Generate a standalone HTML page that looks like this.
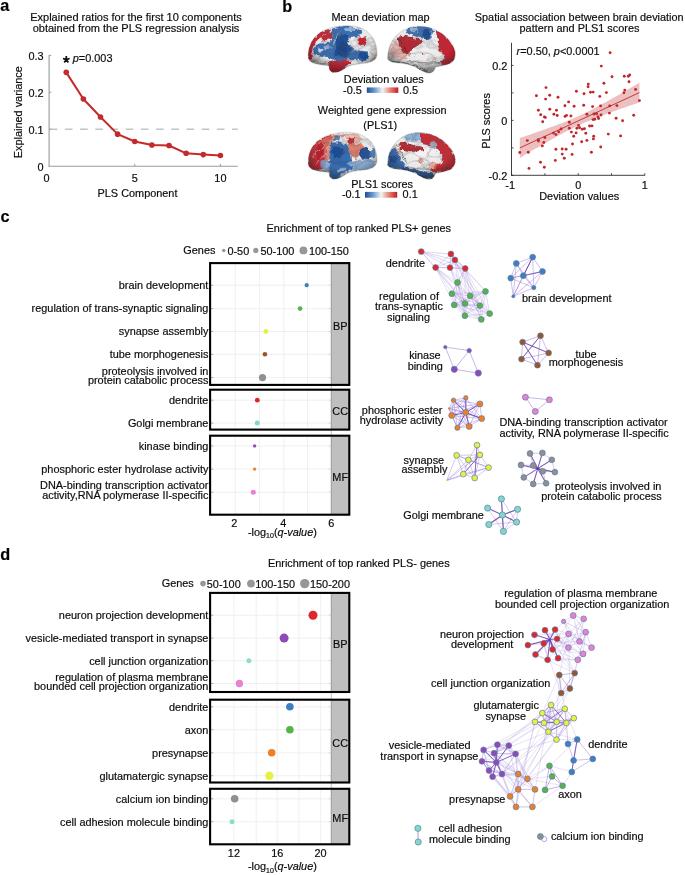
<!DOCTYPE html>
<html><head><meta charset="utf-8"><style>
html,body{margin:0;padding:0;background:#fff;}
body{width:685px;height:875px;overflow:hidden;}
svg{display:block;will-change:transform;font-family:"Liberation Sans",sans-serif;fill:#0c0c0c;}
text{stroke:#0c0c0c;stroke-width:0.18px;}
</style></head><body>
<svg width="685" height="875" viewBox="0 0 685 875">
<defs><filter id="bl1" x="-20%" y="-20%" width="140%" height="140%"><feGaussianBlur stdDeviation="0.6"/></filter>
<filter id="org" x="-10%" y="-10%" width="120%" height="120%"><feTurbulence type="fractalNoise" baseFrequency="0.22" numOctaves="2" seed="4" result="n"/><feDisplacementMap in="SourceGraphic" in2="n" scale="5" xChannelSelector="R" yChannelSelector="G" result="d"/><feGaussianBlur in="d" stdDeviation="0.35"/></filter>
<filter id="sulc" x="0" y="0" width="100%" height="100%"><feTurbulence type="turbulence" baseFrequency="0.07 0.13" numOctaves="1" seed="11" result="t"/><feColorMatrix in="t" type="matrix" values="0 0 0 0 0.1  0 0 0 0 0.1  0 0 0 0 0.12  -4 0 0 0 0.6" result="a"/><feGaussianBlur in="a" stdDeviation="0.55"/></filter>
<radialGradient id="shadeL" cx="0.52" cy="0.38" r="0.66"><stop offset="0" stop-color="#f4f4f4"/><stop offset="0.65" stop-color="#e6e6e6"/><stop offset="1" stop-color="#9a9a9a"/></radialGradient>
<radialGradient id="vign" cx="0.52" cy="0.36" r="0.66"><stop offset="0.62" stop-color="#000" stop-opacity="0"/><stop offset="1" stop-color="#000" stop-opacity="0.38"/></radialGradient>
<clipPath id="c1"><path d="M308.2,57 C307.8,47 312,38 320,32.5 C328,27.5 338,25.6 348,25.6 C357,25.8 364.5,28.5 370.5,34.5 C375.5,40 377.6,48 376.9,55.5 C376.3,60 372.5,62 366,63.2 C359,64 352,64.6 347,67 C343,69.5 339.5,72.4 334.5,72.6 C330.8,72.6 328.8,70 329.0,66 C323,65.2 316,64.6 312,62.6 C309.6,61.3 308.3,59.5 308.2,57 Z" transform="translate(0,0)"/></clipPath>
<clipPath id="c2"><path d="M387.4,58.5 C387.6,50 390,43 395,37 C400,31 407,27.3 416,26.3 C426,25.6 436,28.5 444.5,35.5 C451,41.5 455.2,48 455.4,53.5 C455.4,58.5 453.5,62 449.5,63.8 C445,65.4 440,66.2 435.5,67.2 C434.8,70 433.2,72.8 429.5,73.2 C425.5,73.4 421,70.5 416,67.4 C411,64.8 404,63.4 398,63 C392.5,62.6 388.2,61.4 387.4,58.5 Z" transform="translate(0,0)"/></clipPath>
<clipPath id="c3"><path d="M308.2,57 C307.8,47 312,38 320,32.5 C328,27.5 338,25.6 348,25.6 C357,25.8 364.5,28.5 370.5,34.5 C375.5,40 377.6,48 376.9,55.5 C376.3,60 372.5,62 366,63.2 C359,64 352,64.6 347,67 C343,69.5 339.5,72.4 334.5,72.6 C330.8,72.6 328.8,70 329.0,66 C323,65.2 316,64.6 312,62.6 C309.6,61.3 308.3,59.5 308.2,57 Z" transform="translate(0,106.6)"/></clipPath>
<clipPath id="c4"><path d="M387.4,58.5 C387.6,50 390,43 395,37 C400,31 407,27.3 416,26.3 C426,25.6 436,28.5 444.5,35.5 C451,41.5 455.2,48 455.4,53.5 C455.4,58.5 453.5,62 449.5,63.8 C445,65.4 440,66.2 435.5,67.2 C434.8,70 433.2,72.8 429.5,73.2 C425.5,73.4 421,70.5 416,67.4 C411,64.8 404,63.4 398,63 C392.5,62.6 388.2,61.4 387.4,58.5 Z" transform="translate(0,106.3)"/></clipPath>
<linearGradient id="cb" x1="0" x2="1" y1="0" y2="0"><stop offset="0" stop-color="#1f4f95"/><stop offset="0.25" stop-color="#6b9bd0"/><stop offset="0.5" stop-color="#f3f3f3"/><stop offset="0.75" stop-color="#e88070"/><stop offset="1" stop-color="#c01c28"/></linearGradient></defs>
<rect width="685" height="875" fill="#fff"/>
<text x="0.30" y="10.80" font-size="16.3" text-anchor="start" font-weight="bold" fill="#000">a</text>
<text x="282.30" y="12.40" font-size="16.3" text-anchor="start" font-weight="bold" fill="#000">b</text>
<text x="0.50" y="222.30" font-size="16.3" text-anchor="start" font-weight="bold" fill="#000">c</text>
<text x="0.20" y="559.70" font-size="16.3" text-anchor="start" font-weight="bold" fill="#000">d</text>
<text x="136.00" y="21.10" font-size="11" text-anchor="middle">Explained ratios for the first 10 components</text>
<text x="136.00" y="32.00" font-size="11" text-anchor="middle">obtained from the PLS regression analysis</text>
<line x1="49.10" y1="55.00" x2="49.10" y2="166.70" stroke="#9a9a9a" stroke-width="1.1"/>
<line x1="48.60" y1="166.20" x2="237.80" y2="166.20" stroke="#9a9a9a" stroke-width="1.1"/>
<line x1="49.70" y1="129.25" x2="237.80" y2="129.25" stroke="#c4c4c4" stroke-width="1.7" stroke-dasharray="7.6,7.6"/>
<text x="43.60" y="170.50" font-size="10.9" text-anchor="end">0</text>
<line x1="49.10" y1="129.25" x2="51.30" y2="129.25" stroke="#9a9a9a" stroke-width="1"/>
<text x="43.60" y="133.55" font-size="10.9" text-anchor="end">0.1</text>
<line x1="49.10" y1="92.30" x2="51.30" y2="92.30" stroke="#9a9a9a" stroke-width="1"/>
<text x="43.60" y="96.60" font-size="10.9" text-anchor="end">0.2</text>
<line x1="49.10" y1="55.35" x2="51.30" y2="55.35" stroke="#9a9a9a" stroke-width="1"/>
<text x="43.60" y="59.65" font-size="10.9" text-anchor="end">0.3</text>
<text x="46.60" y="182.00" font-size="10.9" text-anchor="middle">0</text>
<line x1="134.75" y1="166.20" x2="134.75" y2="164.00" stroke="#9a9a9a" stroke-width="1"/>
<text x="134.75" y="182.00" font-size="10.9" text-anchor="middle">5</text>
<line x1="220.40" y1="166.20" x2="220.40" y2="164.00" stroke="#9a9a9a" stroke-width="1"/>
<text x="220.40" y="182.00" font-size="10.9" text-anchor="middle">10</text>
<text x="137.50" y="196.90" font-size="10.9" text-anchor="middle">PLS Component</text>
<text x="0.00" y="0.00" font-size="10.9" text-anchor="middle" transform="translate(22.4,112.2) rotate(-90)">Explained variance</text>
<path d="M66.23,72.35 L83.36,98.95 L100.49,117.06 L117.62,134.13 L134.75,141.52 L151.88,145.03 L169.01,145.51 L186.14,153.30 L203.27,154.60 L220.40,155.52" fill="none" stroke="#c42a2a" stroke-width="2.0" stroke-linejoin="round"/>
<circle cx="66.23" cy="72.35" r="2.80" fill="#c42a2a"/>
<circle cx="83.36" cy="98.95" r="2.80" fill="#c42a2a"/>
<circle cx="100.49" cy="117.06" r="2.80" fill="#c42a2a"/>
<circle cx="117.62" cy="134.13" r="2.80" fill="#c42a2a"/>
<circle cx="134.75" cy="141.52" r="2.80" fill="#c42a2a"/>
<circle cx="151.88" cy="145.03" r="2.80" fill="#c42a2a"/>
<circle cx="169.01" cy="145.51" r="2.80" fill="#c42a2a"/>
<circle cx="186.14" cy="153.30" r="2.80" fill="#c42a2a"/>
<circle cx="203.27" cy="154.60" r="2.80" fill="#c42a2a"/>
<circle cx="220.40" cy="155.52" r="2.80" fill="#c42a2a"/>
<path d="M66.30,59.60 L66.30,56.10 M66.30,59.60 L69.63,58.52 M66.30,59.60 L68.36,62.43 M66.30,59.60 L64.24,62.43 M66.30,59.60 L62.97,58.52" fill="none" stroke="#111" stroke-width="1.7" stroke-linecap="butt"/>
<text x="72.80" y="62.40" font-size="10.9" text-anchor="start"><tspan font-style="italic">p</tspan>=0.003</text>
<text x="579.20" y="21.20" font-size="10.9" text-anchor="middle">Spatial association between brain deviation</text>
<text x="579.50" y="32.00" font-size="10.9" text-anchor="middle">pattern and PLS1 scores</text>
<path d="M519.80,137.90 L522.79,136.91 L525.78,135.90 L528.77,134.90 L531.76,133.88 L534.75,132.86 L537.74,131.83 L540.73,130.80 L543.72,129.75 L546.71,128.69 L549.70,127.61 L552.69,126.53 L555.68,125.42 L558.67,124.29 L561.66,123.14 L564.65,121.96 L567.64,120.75 L570.63,119.51 L573.62,118.23 L576.61,116.92 L579.60,115.56 L582.59,114.16 L585.58,112.72 L588.57,111.25 L591.56,109.73 L594.55,108.18 L597.54,106.61 L600.53,105.00 L603.52,103.37 L606.51,101.72 L609.50,100.04 L612.49,98.36 L615.48,96.66 L618.47,94.94 L621.46,93.22 L624.45,91.48 L627.44,89.74 L630.43,87.99 L633.42,86.24 L636.41,84.47 L639.40,82.71 L639.40,102.49 L636.41,103.49 L633.42,104.49 L630.43,105.50 L627.44,106.52 L624.45,107.54 L621.46,108.57 L618.47,109.61 L615.48,110.66 L612.49,111.73 L609.50,112.81 L606.51,113.90 L603.52,115.01 L600.53,116.15 L597.54,117.30 L594.55,118.49 L591.56,119.71 L588.57,120.96 L585.58,122.25 L582.59,123.57 L579.60,124.94 L576.61,126.35 L573.62,127.80 L570.63,129.28 L567.64,130.81 L564.65,132.36 L561.66,133.95 L558.67,135.57 L555.68,137.20 L552.69,138.86 L549.70,140.54 L546.71,142.23 L543.72,143.93 L540.73,145.65 L537.74,147.38 L534.75,149.11 L531.76,150.86 L528.77,152.61 L525.78,154.37 L522.79,156.13 L519.80,157.90 Z" fill="#c3383b" stroke="none" stroke-width="1" fill-opacity="0.32"/>
<line x1="519.80" y1="147.90" x2="639.40" y2="92.60" stroke="#c02a2c" stroke-width="0.9"/>
<circle cx="546.00" cy="87.60" r="1.45" fill="#c0282a"/>
<circle cx="576.40" cy="91.20" r="1.45" fill="#c0282a"/>
<circle cx="536.40" cy="95.80" r="1.45" fill="#c0282a"/>
<circle cx="549.70" cy="95.30" r="1.45" fill="#c0282a"/>
<circle cx="545.60" cy="99.10" r="1.45" fill="#c0282a"/>
<circle cx="558.00" cy="97.30" r="1.45" fill="#c0282a"/>
<circle cx="568.60" cy="101.90" r="1.45" fill="#c0282a"/>
<circle cx="564.90" cy="105.80" r="1.45" fill="#c0282a"/>
<circle cx="574.10" cy="106.20" r="1.45" fill="#c0282a"/>
<circle cx="538.40" cy="110.30" r="1.45" fill="#c0282a"/>
<circle cx="549.80" cy="109.30" r="1.45" fill="#c0282a"/>
<circle cx="556.50" cy="110.30" r="1.45" fill="#c0282a"/>
<circle cx="540.70" cy="114.70" r="1.45" fill="#c0282a"/>
<circle cx="553.90" cy="114.20" r="1.45" fill="#c0282a"/>
<circle cx="557.20" cy="115.50" r="1.45" fill="#c0282a"/>
<circle cx="544.40" cy="116.90" r="1.45" fill="#c0282a"/>
<circle cx="545.30" cy="117.40" r="1.45" fill="#c0282a"/>
<circle cx="565.00" cy="116.40" r="1.45" fill="#c0282a"/>
<circle cx="566.50" cy="115.40" r="1.45" fill="#c0282a"/>
<circle cx="570.90" cy="116.00" r="1.45" fill="#c0282a"/>
<circle cx="542.70" cy="121.80" r="1.45" fill="#c0282a"/>
<circle cx="569.30" cy="122.30" r="1.45" fill="#c0282a"/>
<circle cx="561.10" cy="129.00" r="1.45" fill="#c0282a"/>
<circle cx="569.30" cy="128.30" r="1.45" fill="#c0282a"/>
<circle cx="576.90" cy="128.30" r="1.45" fill="#c0282a"/>
<circle cx="578.50" cy="125.40" r="1.45" fill="#c0282a"/>
<circle cx="610.10" cy="52.80" r="1.45" fill="#c0282a"/>
<circle cx="601.30" cy="66.10" r="1.45" fill="#c0282a"/>
<circle cx="612.00" cy="76.80" r="1.45" fill="#c0282a"/>
<circle cx="624.30" cy="76.30" r="1.45" fill="#c0282a"/>
<circle cx="628.30" cy="76.30" r="1.45" fill="#c0282a"/>
<circle cx="629.70" cy="75.00" r="1.45" fill="#c0282a"/>
<circle cx="629.00" cy="81.70" r="1.45" fill="#c0282a"/>
<circle cx="603.90" cy="83.20" r="1.45" fill="#c0282a"/>
<circle cx="588.30" cy="84.10" r="1.45" fill="#c0282a"/>
<circle cx="588.10" cy="86.80" r="1.45" fill="#c0282a"/>
<circle cx="584.00" cy="93.70" r="1.45" fill="#c0282a"/>
<circle cx="590.50" cy="92.30" r="1.45" fill="#c0282a"/>
<circle cx="593.20" cy="92.10" r="1.45" fill="#c0282a"/>
<circle cx="606.40" cy="92.60" r="1.45" fill="#c0282a"/>
<circle cx="624.80" cy="90.10" r="1.45" fill="#c0282a"/>
<circle cx="623.90" cy="92.70" r="1.45" fill="#c0282a"/>
<circle cx="635.60" cy="89.40" r="1.45" fill="#c0282a"/>
<circle cx="599.80" cy="96.40" r="1.45" fill="#c0282a"/>
<circle cx="639.40" cy="100.60" r="1.45" fill="#c0282a"/>
<circle cx="583.70" cy="105.20" r="1.45" fill="#c0282a"/>
<circle cx="592.60" cy="106.60" r="1.45" fill="#c0282a"/>
<circle cx="600.60" cy="105.90" r="1.45" fill="#c0282a"/>
<circle cx="609.70" cy="105.90" r="1.45" fill="#c0282a"/>
<circle cx="616.90" cy="105.60" r="1.45" fill="#c0282a"/>
<circle cx="558.70" cy="131.80" r="1.45" fill="#c0282a"/>
<circle cx="571.40" cy="132.10" r="1.45" fill="#c0282a"/>
<circle cx="553.50" cy="133.10" r="1.45" fill="#c0282a"/>
<circle cx="555.90" cy="134.60" r="1.45" fill="#c0282a"/>
<circle cx="573.70" cy="136.20" r="1.45" fill="#c0282a"/>
<circle cx="544.90" cy="137.50" r="1.45" fill="#c0282a"/>
<circle cx="527.30" cy="140.60" r="1.45" fill="#c0282a"/>
<circle cx="538.20" cy="139.70" r="1.45" fill="#c0282a"/>
<circle cx="538.50" cy="141.00" r="1.45" fill="#c0282a"/>
<circle cx="543.80" cy="142.50" r="1.45" fill="#c0282a"/>
<circle cx="542.30" cy="145.90" r="1.45" fill="#c0282a"/>
<circle cx="572.50" cy="144.00" r="1.45" fill="#c0282a"/>
<circle cx="519.80" cy="152.50" r="1.45" fill="#c0282a"/>
<circle cx="528.30" cy="152.20" r="1.45" fill="#c0282a"/>
<circle cx="555.90" cy="149.20" r="1.45" fill="#c0282a"/>
<circle cx="562.20" cy="149.00" r="1.45" fill="#c0282a"/>
<circle cx="566.10" cy="149.30" r="1.45" fill="#c0282a"/>
<circle cx="562.20" cy="154.10" r="1.45" fill="#c0282a"/>
<circle cx="572.10" cy="154.40" r="1.45" fill="#c0282a"/>
<circle cx="564.30" cy="158.30" r="1.45" fill="#c0282a"/>
<circle cx="555.30" cy="160.40" r="1.45" fill="#c0282a"/>
<circle cx="540.50" cy="162.20" r="1.45" fill="#c0282a"/>
<circle cx="529.00" cy="168.40" r="1.45" fill="#c0282a"/>
<circle cx="544.30" cy="167.30" r="1.45" fill="#c0282a"/>
<circle cx="586.90" cy="114.20" r="1.45" fill="#c0282a"/>
<circle cx="594.00" cy="114.00" r="1.45" fill="#c0282a"/>
<circle cx="596.60" cy="113.70" r="1.45" fill="#c0282a"/>
<circle cx="601.00" cy="115.00" r="1.45" fill="#c0282a"/>
<circle cx="609.40" cy="113.10" r="1.45" fill="#c0282a"/>
<circle cx="633.70" cy="115.20" r="1.45" fill="#c0282a"/>
<circle cx="598.00" cy="116.90" r="1.45" fill="#c0282a"/>
<circle cx="598.60" cy="118.50" r="1.45" fill="#c0282a"/>
<circle cx="593.00" cy="119.60" r="1.45" fill="#c0282a"/>
<circle cx="594.80" cy="119.30" r="1.45" fill="#c0282a"/>
<circle cx="616.10" cy="118.30" r="1.45" fill="#c0282a"/>
<circle cx="622.60" cy="120.70" r="1.45" fill="#c0282a"/>
<circle cx="579.60" cy="127.70" r="1.45" fill="#c0282a"/>
<circle cx="582.30" cy="129.20" r="1.45" fill="#c0282a"/>
<circle cx="584.40" cy="128.80" r="1.45" fill="#c0282a"/>
<circle cx="589.60" cy="126.00" r="1.45" fill="#c0282a"/>
<circle cx="592.00" cy="125.90" r="1.45" fill="#c0282a"/>
<circle cx="576.10" cy="132.90" r="1.45" fill="#c0282a"/>
<circle cx="585.80" cy="133.30" r="1.45" fill="#c0282a"/>
<circle cx="593.70" cy="136.20" r="1.45" fill="#c0282a"/>
<circle cx="593.40" cy="138.90" r="1.45" fill="#c0282a"/>
<circle cx="608.30" cy="134.10" r="1.45" fill="#c0282a"/>
<circle cx="620.60" cy="135.90" r="1.45" fill="#c0282a"/>
<circle cx="586.90" cy="140.40" r="1.45" fill="#c0282a"/>
<circle cx="581.70" cy="141.70" r="1.45" fill="#c0282a"/>
<circle cx="600.70" cy="147.00" r="1.45" fill="#c0282a"/>
<circle cx="591.40" cy="152.20" r="1.45" fill="#c0282a"/>
<line x1="511.50" y1="42.80" x2="511.50" y2="175.30" stroke="#2a2a2a" stroke-width="0.9"/>
<line x1="511.00" y1="175.30" x2="645.00" y2="175.30" stroke="#2a2a2a" stroke-width="0.9"/>
<line x1="511.50" y1="175.40" x2="513.60" y2="175.40" stroke="#2a2a2a" stroke-width="0.8"/>
<line x1="511.50" y1="147.90" x2="513.60" y2="147.90" stroke="#2a2a2a" stroke-width="0.8"/>
<line x1="511.50" y1="120.40" x2="513.60" y2="120.40" stroke="#2a2a2a" stroke-width="0.8"/>
<line x1="511.50" y1="92.90" x2="513.60" y2="92.90" stroke="#2a2a2a" stroke-width="0.8"/>
<line x1="511.50" y1="65.40" x2="513.60" y2="65.40" stroke="#2a2a2a" stroke-width="0.8"/>
<line x1="511.60" y1="175.30" x2="511.60" y2="173.20" stroke="#2a2a2a" stroke-width="0.8"/>
<line x1="544.90" y1="175.30" x2="544.90" y2="173.20" stroke="#2a2a2a" stroke-width="0.8"/>
<line x1="578.20" y1="175.30" x2="578.20" y2="173.20" stroke="#2a2a2a" stroke-width="0.8"/>
<line x1="611.50" y1="175.30" x2="611.50" y2="173.20" stroke="#2a2a2a" stroke-width="0.8"/>
<line x1="644.80" y1="175.30" x2="644.80" y2="173.20" stroke="#2a2a2a" stroke-width="0.8"/>
<text x="507.40" y="70.00" font-size="10.9" text-anchor="end">0.2</text>
<text x="507.40" y="125.00" font-size="10.9" text-anchor="end">0</text>
<text x="507.40" y="180.00" font-size="10.9" text-anchor="end">-0.2</text>
<text x="510.10" y="188.90" font-size="10.9" text-anchor="middle">-1</text>
<text x="578.20" y="188.90" font-size="10.9" text-anchor="middle">0</text>
<text x="644.80" y="188.90" font-size="10.9" text-anchor="middle">1</text>
<text x="579.20" y="199.60" font-size="10.9" text-anchor="middle">Deviation values</text>
<text x="0.00" y="0.00" font-size="10.9" text-anchor="middle" transform="translate(490.4,121) rotate(-90)">PLS scores</text>
<text x="516.60" y="54.70" font-size="10.9" text-anchor="start"><tspan font-style="italic">r</tspan>=0.50, <tspan font-style="italic">p</tspan>&lt;0.0001</text>
<text x="358.80" y="231.90" font-size="10.9" text-anchor="middle">Enrichment of top ranked PLS+ genes</text>
<text x="183.30" y="253.90" font-size="10.9" text-anchor="start">Genes</text>
<circle cx="223.75" cy="250.40" r="1.75" fill="#979797"/>
<text x="227.40" y="254.80" font-size="10.9" text-anchor="start">0-50</text>
<circle cx="255.80" cy="250.40" r="2.60" fill="#979797"/>
<text x="260.40" y="254.80" font-size="10.9" text-anchor="start">50-100</text>
<circle cx="303.40" cy="250.40" r="3.90" fill="#979797"/>
<text x="308.90" y="254.80" font-size="10.9" text-anchor="start">100-150</text>
<line x1="235.30" y1="264.10" x2="235.30" y2="383.90" stroke="#ececec" stroke-width="0.8"/>
<line x1="259.60" y1="264.10" x2="259.60" y2="383.90" stroke="#ececec" stroke-width="0.8"/>
<line x1="283.80" y1="264.10" x2="283.80" y2="383.90" stroke="#ececec" stroke-width="0.8"/>
<line x1="307.50" y1="264.10" x2="307.50" y2="383.90" stroke="#ececec" stroke-width="0.8"/>
<rect x="331.30" y="263.10" width="18.00" height="121.80" fill="#bfbfbf" stroke="none" stroke-width="1"/>
<line x1="331.30" y1="263.10" x2="331.30" y2="384.90" stroke="#8c8c8c" stroke-width="0.6"/>
<line x1="235.30" y1="390.70" x2="235.30" y2="428.60" stroke="#ececec" stroke-width="0.8"/>
<line x1="259.60" y1="390.70" x2="259.60" y2="428.60" stroke="#ececec" stroke-width="0.8"/>
<line x1="283.80" y1="390.70" x2="283.80" y2="428.60" stroke="#ececec" stroke-width="0.8"/>
<line x1="307.50" y1="390.70" x2="307.50" y2="428.60" stroke="#ececec" stroke-width="0.8"/>
<rect x="331.30" y="389.70" width="18.00" height="39.90" fill="#bfbfbf" stroke="none" stroke-width="1"/>
<line x1="331.30" y1="389.70" x2="331.30" y2="429.60" stroke="#8c8c8c" stroke-width="0.6"/>
<line x1="235.30" y1="436.70" x2="235.30" y2="513.70" stroke="#ececec" stroke-width="0.8"/>
<line x1="259.60" y1="436.70" x2="259.60" y2="513.70" stroke="#ececec" stroke-width="0.8"/>
<line x1="283.80" y1="436.70" x2="283.80" y2="513.70" stroke="#ececec" stroke-width="0.8"/>
<line x1="307.50" y1="436.70" x2="307.50" y2="513.70" stroke="#ececec" stroke-width="0.8"/>
<rect x="331.30" y="435.70" width="18.00" height="79.00" fill="#bfbfbf" stroke="none" stroke-width="1"/>
<line x1="331.30" y1="435.70" x2="331.30" y2="514.70" stroke="#8c8c8c" stroke-width="0.6"/>
<line x1="211.10" y1="285.20" x2="331.30" y2="285.20" stroke="#ececec" stroke-width="0.8"/>
<line x1="211.10" y1="285.20" x2="213.30" y2="285.20" stroke="#8a8a8a" stroke-width="0.7"/>
<line x1="329.10" y1="285.20" x2="331.30" y2="285.20" stroke="#c4c4c4" stroke-width="0.7"/>
<line x1="211.10" y1="308.60" x2="331.30" y2="308.60" stroke="#ececec" stroke-width="0.8"/>
<line x1="211.10" y1="308.60" x2="213.30" y2="308.60" stroke="#8a8a8a" stroke-width="0.7"/>
<line x1="329.10" y1="308.60" x2="331.30" y2="308.60" stroke="#c4c4c4" stroke-width="0.7"/>
<line x1="211.10" y1="331.50" x2="331.30" y2="331.50" stroke="#ececec" stroke-width="0.8"/>
<line x1="211.10" y1="331.50" x2="213.30" y2="331.50" stroke="#8a8a8a" stroke-width="0.7"/>
<line x1="329.10" y1="331.50" x2="331.30" y2="331.50" stroke="#c4c4c4" stroke-width="0.7"/>
<line x1="211.10" y1="354.30" x2="331.30" y2="354.30" stroke="#ececec" stroke-width="0.8"/>
<line x1="211.10" y1="354.30" x2="213.30" y2="354.30" stroke="#8a8a8a" stroke-width="0.7"/>
<line x1="329.10" y1="354.30" x2="331.30" y2="354.30" stroke="#c4c4c4" stroke-width="0.7"/>
<line x1="211.10" y1="377.60" x2="331.30" y2="377.60" stroke="#ececec" stroke-width="0.8"/>
<line x1="211.10" y1="377.60" x2="213.30" y2="377.60" stroke="#8a8a8a" stroke-width="0.7"/>
<line x1="329.10" y1="377.60" x2="331.30" y2="377.60" stroke="#c4c4c4" stroke-width="0.7"/>
<line x1="211.10" y1="400.20" x2="331.30" y2="400.20" stroke="#ececec" stroke-width="0.8"/>
<line x1="211.10" y1="400.20" x2="213.30" y2="400.20" stroke="#8a8a8a" stroke-width="0.7"/>
<line x1="329.10" y1="400.20" x2="331.30" y2="400.20" stroke="#c4c4c4" stroke-width="0.7"/>
<line x1="211.10" y1="423.10" x2="331.30" y2="423.10" stroke="#ececec" stroke-width="0.8"/>
<line x1="211.10" y1="423.10" x2="213.30" y2="423.10" stroke="#8a8a8a" stroke-width="0.7"/>
<line x1="329.10" y1="423.10" x2="331.30" y2="423.10" stroke="#c4c4c4" stroke-width="0.7"/>
<line x1="211.10" y1="445.90" x2="331.30" y2="445.90" stroke="#ececec" stroke-width="0.8"/>
<line x1="211.10" y1="445.90" x2="213.30" y2="445.90" stroke="#8a8a8a" stroke-width="0.7"/>
<line x1="329.10" y1="445.90" x2="331.30" y2="445.90" stroke="#c4c4c4" stroke-width="0.7"/>
<line x1="211.10" y1="469.10" x2="331.30" y2="469.10" stroke="#ececec" stroke-width="0.8"/>
<line x1="211.10" y1="469.10" x2="213.30" y2="469.10" stroke="#8a8a8a" stroke-width="0.7"/>
<line x1="329.10" y1="469.10" x2="331.30" y2="469.10" stroke="#c4c4c4" stroke-width="0.7"/>
<line x1="211.10" y1="492.20" x2="331.30" y2="492.20" stroke="#ececec" stroke-width="0.8"/>
<line x1="211.10" y1="492.20" x2="213.30" y2="492.20" stroke="#8a8a8a" stroke-width="0.7"/>
<line x1="329.10" y1="492.20" x2="331.30" y2="492.20" stroke="#c4c4c4" stroke-width="0.7"/>
<circle cx="306.70" cy="285.20" r="2.10" fill="#3d7ec0"/>
<text x="208.40" y="289.00" font-size="10.9" text-anchor="end">brain development</text>
<circle cx="300.10" cy="308.60" r="2.30" fill="#56b34a"/>
<text x="208.40" y="312.40" font-size="10.9" text-anchor="end">regulation of trans-synaptic signaling</text>
<circle cx="265.90" cy="331.50" r="2.40" fill="#e6f045"/>
<text x="208.40" y="335.30" font-size="10.9" text-anchor="end">synapse assembly</text>
<circle cx="264.90" cy="354.30" r="2.30" fill="#9b552b"/>
<text x="208.40" y="358.10" font-size="10.9" text-anchor="end">tube morphogenesis</text>
<circle cx="262.50" cy="377.60" r="3.60" fill="#8f8f8f"/>
<text x="208.40" y="374.70" font-size="10.9" text-anchor="end">proteolysis involved in</text>
<text x="208.40" y="383.90" font-size="10.9" text-anchor="end">protein catabolic process</text>
<circle cx="257.30" cy="400.20" r="2.40" fill="#e0262a"/>
<text x="208.40" y="404.00" font-size="10.9" text-anchor="end">dendrite</text>
<circle cx="257.30" cy="423.10" r="2.50" fill="#82d7c8"/>
<text x="208.40" y="426.90" font-size="10.9" text-anchor="end">Golgi membrane</text>
<circle cx="254.60" cy="445.90" r="1.70" fill="#8e4bb8"/>
<text x="208.40" y="449.70" font-size="10.9" text-anchor="end">kinase binding</text>
<circle cx="254.60" cy="469.10" r="1.70" fill="#ee7f27"/>
<text x="208.40" y="472.90" font-size="10.9" text-anchor="end">phosphoric ester hydrolase activity</text>
<circle cx="253.30" cy="492.20" r="2.50" fill="#e681d4"/>
<text x="208.40" y="489.30" font-size="10.9" text-anchor="end">DNA-binding transcription activator</text>
<text x="208.40" y="498.50" font-size="10.9" text-anchor="end">activity,RNA polymerase II-specific</text>
<line x1="331.30" y1="263.10" x2="331.30" y2="514.70" stroke="#9a9a9a" stroke-width="0.6"/>
<rect x="210.10" y="263.10" width="139.20" height="121.80" fill="none" stroke="#000" stroke-width="2.1"/>
<text x="340.20" y="329.60" font-size="10.9" text-anchor="middle">BP</text>
<rect x="210.10" y="389.70" width="139.20" height="39.90" fill="none" stroke="#000" stroke-width="2.1"/>
<text x="340.20" y="415.25" font-size="10.9" text-anchor="middle">CC</text>
<rect x="210.10" y="435.70" width="139.20" height="79.00" fill="none" stroke="#000" stroke-width="2.1"/>
<text x="340.20" y="480.80" font-size="10.9" text-anchor="middle">MF</text>
<text x="234.30" y="527.00" font-size="10.9" text-anchor="middle">2</text>
<text x="283.30" y="527.00" font-size="10.9" text-anchor="middle">4</text>
<text x="331.40" y="527.00" font-size="10.9" text-anchor="middle">6</text>
<text x="282.40" y="535.70" font-size="10.9" text-anchor="middle">-log<tspan font-size="7" dy="2.5">10</tspan><tspan dy="-2.5">(</tspan><tspan font-style="italic">q-value</tspan>)</text>
<text x="358.80" y="566.90" font-size="10.9" text-anchor="middle">Enrichment of top ranked PLS- genes</text>
<text x="161.70" y="586.70" font-size="10.9" text-anchor="start">Genes</text>
<circle cx="203.00" cy="583.60" r="2.80" fill="#979797"/>
<text x="206.80" y="587.80" font-size="10.9" text-anchor="start">50-100</text>
<circle cx="251.00" cy="583.60" r="3.90" fill="#979797"/>
<text x="255.20" y="587.80" font-size="10.9" text-anchor="start">100-150</text>
<circle cx="304.70" cy="583.60" r="4.70" fill="#979797"/>
<text x="310.00" y="587.80" font-size="10.9" text-anchor="start">150-200</text>
<line x1="233.90" y1="593.90" x2="233.90" y2="691.00" stroke="#ececec" stroke-width="0.8"/>
<line x1="256.20" y1="593.90" x2="256.20" y2="691.00" stroke="#ececec" stroke-width="0.8"/>
<line x1="277.20" y1="593.90" x2="277.20" y2="691.00" stroke="#ececec" stroke-width="0.8"/>
<line x1="298.80" y1="593.90" x2="298.80" y2="691.00" stroke="#ececec" stroke-width="0.8"/>
<line x1="320.60" y1="593.90" x2="320.60" y2="691.00" stroke="#ececec" stroke-width="0.8"/>
<rect x="331.30" y="592.90" width="18.00" height="99.10" fill="#bfbfbf" stroke="none" stroke-width="1"/>
<line x1="331.30" y1="592.90" x2="331.30" y2="692.00" stroke="#8c8c8c" stroke-width="0.6"/>
<line x1="233.90" y1="700.70" x2="233.90" y2="781.50" stroke="#ececec" stroke-width="0.8"/>
<line x1="256.20" y1="700.70" x2="256.20" y2="781.50" stroke="#ececec" stroke-width="0.8"/>
<line x1="277.20" y1="700.70" x2="277.20" y2="781.50" stroke="#ececec" stroke-width="0.8"/>
<line x1="298.80" y1="700.70" x2="298.80" y2="781.50" stroke="#ececec" stroke-width="0.8"/>
<line x1="320.60" y1="700.70" x2="320.60" y2="781.50" stroke="#ececec" stroke-width="0.8"/>
<rect x="331.30" y="699.70" width="18.00" height="82.80" fill="#bfbfbf" stroke="none" stroke-width="1"/>
<line x1="331.30" y1="699.70" x2="331.30" y2="782.50" stroke="#8c8c8c" stroke-width="0.6"/>
<line x1="233.90" y1="789.80" x2="233.90" y2="843.30" stroke="#ececec" stroke-width="0.8"/>
<line x1="256.20" y1="789.80" x2="256.20" y2="843.30" stroke="#ececec" stroke-width="0.8"/>
<line x1="277.20" y1="789.80" x2="277.20" y2="843.30" stroke="#ececec" stroke-width="0.8"/>
<line x1="298.80" y1="789.80" x2="298.80" y2="843.30" stroke="#ececec" stroke-width="0.8"/>
<line x1="320.60" y1="789.80" x2="320.60" y2="843.30" stroke="#ececec" stroke-width="0.8"/>
<rect x="331.30" y="788.80" width="18.00" height="55.50" fill="#bfbfbf" stroke="none" stroke-width="1"/>
<line x1="331.30" y1="788.80" x2="331.30" y2="844.30" stroke="#8c8c8c" stroke-width="0.6"/>
<line x1="211.10" y1="615.20" x2="331.30" y2="615.20" stroke="#ececec" stroke-width="0.8"/>
<line x1="211.10" y1="615.20" x2="213.30" y2="615.20" stroke="#8a8a8a" stroke-width="0.7"/>
<line x1="329.10" y1="615.20" x2="331.30" y2="615.20" stroke="#c4c4c4" stroke-width="0.7"/>
<line x1="211.10" y1="638.10" x2="331.30" y2="638.10" stroke="#ececec" stroke-width="0.8"/>
<line x1="211.10" y1="638.10" x2="213.30" y2="638.10" stroke="#8a8a8a" stroke-width="0.7"/>
<line x1="329.10" y1="638.10" x2="331.30" y2="638.10" stroke="#c4c4c4" stroke-width="0.7"/>
<line x1="211.10" y1="660.70" x2="331.30" y2="660.70" stroke="#ececec" stroke-width="0.8"/>
<line x1="211.10" y1="660.70" x2="213.30" y2="660.70" stroke="#8a8a8a" stroke-width="0.7"/>
<line x1="329.10" y1="660.70" x2="331.30" y2="660.70" stroke="#c4c4c4" stroke-width="0.7"/>
<line x1="211.10" y1="683.50" x2="331.30" y2="683.50" stroke="#ececec" stroke-width="0.8"/>
<line x1="211.10" y1="683.50" x2="213.30" y2="683.50" stroke="#8a8a8a" stroke-width="0.7"/>
<line x1="329.10" y1="683.50" x2="331.30" y2="683.50" stroke="#c4c4c4" stroke-width="0.7"/>
<line x1="211.10" y1="706.80" x2="331.30" y2="706.80" stroke="#ececec" stroke-width="0.8"/>
<line x1="211.10" y1="706.80" x2="213.30" y2="706.80" stroke="#8a8a8a" stroke-width="0.7"/>
<line x1="329.10" y1="706.80" x2="331.30" y2="706.80" stroke="#c4c4c4" stroke-width="0.7"/>
<line x1="211.10" y1="729.70" x2="331.30" y2="729.70" stroke="#ececec" stroke-width="0.8"/>
<line x1="211.10" y1="729.70" x2="213.30" y2="729.70" stroke="#8a8a8a" stroke-width="0.7"/>
<line x1="329.10" y1="729.70" x2="331.30" y2="729.70" stroke="#c4c4c4" stroke-width="0.7"/>
<line x1="211.10" y1="752.80" x2="331.30" y2="752.80" stroke="#ececec" stroke-width="0.8"/>
<line x1="211.10" y1="752.80" x2="213.30" y2="752.80" stroke="#8a8a8a" stroke-width="0.7"/>
<line x1="329.10" y1="752.80" x2="331.30" y2="752.80" stroke="#c4c4c4" stroke-width="0.7"/>
<line x1="211.10" y1="775.70" x2="331.30" y2="775.70" stroke="#ececec" stroke-width="0.8"/>
<line x1="211.10" y1="775.70" x2="213.30" y2="775.70" stroke="#8a8a8a" stroke-width="0.7"/>
<line x1="329.10" y1="775.70" x2="331.30" y2="775.70" stroke="#c4c4c4" stroke-width="0.7"/>
<line x1="211.10" y1="798.80" x2="331.30" y2="798.80" stroke="#ececec" stroke-width="0.8"/>
<line x1="211.10" y1="798.80" x2="213.30" y2="798.80" stroke="#8a8a8a" stroke-width="0.7"/>
<line x1="329.10" y1="798.80" x2="331.30" y2="798.80" stroke="#c4c4c4" stroke-width="0.7"/>
<line x1="211.10" y1="821.70" x2="331.30" y2="821.70" stroke="#ececec" stroke-width="0.8"/>
<line x1="211.10" y1="821.70" x2="213.30" y2="821.70" stroke="#8a8a8a" stroke-width="0.7"/>
<line x1="329.10" y1="821.70" x2="331.30" y2="821.70" stroke="#c4c4c4" stroke-width="0.7"/>
<circle cx="313.00" cy="615.20" r="4.50" fill="#e0262a"/>
<text x="208.40" y="619.00" font-size="10.9" text-anchor="end">neuron projection development</text>
<circle cx="284.10" cy="638.10" r="4.50" fill="#8e4bb8"/>
<text x="208.40" y="641.90" font-size="10.9" text-anchor="end">vesicle-mediated transport in synapse</text>
<circle cx="248.90" cy="660.70" r="2.50" fill="#8fdccb"/>
<text x="208.40" y="664.50" font-size="10.9" text-anchor="end">cell junction organization</text>
<circle cx="239.40" cy="683.50" r="3.70" fill="#e681d4"/>
<text x="208.40" y="680.60" font-size="10.9" text-anchor="end">regulation of plasma membrane</text>
<text x="208.40" y="689.80" font-size="10.9" text-anchor="end">bounded cell projection organization</text>
<circle cx="289.90" cy="706.80" r="3.80" fill="#3d7ec0"/>
<text x="208.40" y="710.60" font-size="10.9" text-anchor="end">dendrite</text>
<circle cx="289.90" cy="729.70" r="3.80" fill="#56b34a"/>
<text x="208.40" y="733.50" font-size="10.9" text-anchor="end">axon</text>
<circle cx="271.70" cy="752.80" r="3.80" fill="#ee7f27"/>
<text x="208.40" y="756.60" font-size="10.9" text-anchor="end">presynapse</text>
<circle cx="269.40" cy="775.70" r="4.20" fill="#e6f045"/>
<text x="208.40" y="779.50" font-size="10.9" text-anchor="end">glutamatergic synapse</text>
<circle cx="234.70" cy="798.80" r="3.80" fill="#8f8f8f"/>
<text x="208.40" y="802.60" font-size="10.9" text-anchor="end">calcium ion binding</text>
<circle cx="232.00" cy="821.70" r="2.50" fill="#8fdccb"/>
<text x="208.40" y="825.50" font-size="10.9" text-anchor="end">cell adhesion molecule binding</text>
<line x1="331.30" y1="592.90" x2="331.30" y2="844.30" stroke="#9a9a9a" stroke-width="0.6"/>
<rect x="210.10" y="592.90" width="139.20" height="99.10" fill="none" stroke="#000" stroke-width="2.1"/>
<text x="340.20" y="648.05" font-size="10.9" text-anchor="middle">BP</text>
<rect x="210.10" y="699.70" width="139.20" height="82.80" fill="none" stroke="#000" stroke-width="2.1"/>
<text x="340.20" y="746.70" font-size="10.9" text-anchor="middle">CC</text>
<rect x="210.10" y="788.80" width="139.20" height="55.50" fill="none" stroke="#000" stroke-width="2.1"/>
<text x="340.20" y="822.15" font-size="10.9" text-anchor="middle">MF</text>
<text x="233.90" y="856.50" font-size="10.9" text-anchor="middle">12</text>
<text x="277.20" y="856.50" font-size="10.9" text-anchor="middle">16</text>
<text x="320.60" y="856.50" font-size="10.9" text-anchor="middle">20</text>
<text x="282.40" y="870.00" font-size="10.9" text-anchor="middle">-log<tspan font-size="7" dy="2.5">10</tspan><tspan dy="-2.5">(</tspan><tspan font-style="italic">q-value</tspan>)</text>
<circle cx="544.2" cy="839.0" r="2.6" fill="none" stroke="#a58be0" stroke-width="0.8"/>
<line x1="421.2" y1="251.6" x2="450.9" y2="254.0" stroke="#8b6ccc" stroke-width="0.5" stroke-opacity="0.55"/>
<line x1="421.2" y1="251.6" x2="454.9" y2="259.9" stroke="#8b6ccc" stroke-width="0.5" stroke-opacity="0.55"/>
<line x1="421.2" y1="251.6" x2="435.6" y2="267.5" stroke="#8b6ccc" stroke-width="0.5" stroke-opacity="0.55"/>
<line x1="421.2" y1="251.6" x2="450.0" y2="267.6" stroke="#8b6ccc" stroke-width="0.5" stroke-opacity="0.55"/>
<line x1="421.2" y1="251.6" x2="465.2" y2="268.5" stroke="#8b6ccc" stroke-width="0.5" stroke-opacity="0.55"/>
<line x1="450.9" y1="254.0" x2="454.9" y2="259.9" stroke="#8b6ccc" stroke-width="0.5" stroke-opacity="0.55"/>
<line x1="450.9" y1="254.0" x2="435.6" y2="267.5" stroke="#8b6ccc" stroke-width="0.5" stroke-opacity="0.55"/>
<line x1="450.9" y1="254.0" x2="450.0" y2="267.6" stroke="#8b6ccc" stroke-width="0.5" stroke-opacity="0.55"/>
<line x1="450.9" y1="254.0" x2="465.2" y2="268.5" stroke="#8b6ccc" stroke-width="0.5" stroke-opacity="0.55"/>
<line x1="454.9" y1="259.9" x2="435.6" y2="267.5" stroke="#8b6ccc" stroke-width="0.5" stroke-opacity="0.55"/>
<line x1="454.9" y1="259.9" x2="450.0" y2="267.6" stroke="#8b6ccc" stroke-width="0.5" stroke-opacity="0.55"/>
<line x1="454.9" y1="259.9" x2="465.2" y2="268.5" stroke="#8b6ccc" stroke-width="0.5" stroke-opacity="0.55"/>
<line x1="435.6" y1="267.5" x2="450.0" y2="267.6" stroke="#8b6ccc" stroke-width="0.5" stroke-opacity="0.55"/>
<line x1="435.6" y1="267.5" x2="465.2" y2="268.5" stroke="#8b6ccc" stroke-width="0.5" stroke-opacity="0.55"/>
<line x1="450.0" y1="267.6" x2="465.2" y2="268.5" stroke="#8b6ccc" stroke-width="0.5" stroke-opacity="0.55"/>
<line x1="457.5" y1="282.5" x2="451.9" y2="293.7" stroke="#8b6ccc" stroke-width="0.5" stroke-opacity="0.55"/>
<line x1="457.5" y1="282.5" x2="470.1" y2="295.8" stroke="#8b6ccc" stroke-width="0.5" stroke-opacity="0.55"/>
<line x1="457.5" y1="282.5" x2="454.2" y2="304.9" stroke="#8b6ccc" stroke-width="0.5" stroke-opacity="0.55"/>
<line x1="457.5" y1="282.5" x2="464.9" y2="303.5" stroke="#8b6ccc" stroke-width="0.5" stroke-opacity="0.55"/>
<line x1="457.5" y1="282.5" x2="464.9" y2="315.7" stroke="#8b6ccc" stroke-width="0.5" stroke-opacity="0.55"/>
<line x1="451.9" y1="293.7" x2="470.1" y2="295.8" stroke="#8b6ccc" stroke-width="0.5" stroke-opacity="0.55"/>
<line x1="451.9" y1="293.7" x2="485.5" y2="291.4" stroke="#8b6ccc" stroke-width="0.5" stroke-opacity="0.55"/>
<line x1="451.9" y1="293.7" x2="454.2" y2="304.9" stroke="#8b6ccc" stroke-width="0.5" stroke-opacity="0.55"/>
<line x1="451.9" y1="293.7" x2="464.9" y2="303.5" stroke="#8b6ccc" stroke-width="0.5" stroke-opacity="0.55"/>
<line x1="451.9" y1="293.7" x2="479.9" y2="305.6" stroke="#8b6ccc" stroke-width="0.5" stroke-opacity="0.55"/>
<line x1="451.9" y1="293.7" x2="464.9" y2="315.7" stroke="#8b6ccc" stroke-width="0.5" stroke-opacity="0.55"/>
<line x1="451.9" y1="293.7" x2="481.3" y2="319.4" stroke="#8b6ccc" stroke-width="0.5" stroke-opacity="0.55"/>
<line x1="470.1" y1="295.8" x2="485.5" y2="291.4" stroke="#8b6ccc" stroke-width="0.5" stroke-opacity="0.55"/>
<line x1="470.1" y1="295.8" x2="454.2" y2="304.9" stroke="#8b6ccc" stroke-width="0.5" stroke-opacity="0.55"/>
<line x1="470.1" y1="295.8" x2="464.9" y2="303.5" stroke="#8b6ccc" stroke-width="0.5" stroke-opacity="0.55"/>
<line x1="470.1" y1="295.8" x2="479.9" y2="305.6" stroke="#8b6ccc" stroke-width="0.5" stroke-opacity="0.55"/>
<line x1="470.1" y1="295.8" x2="464.9" y2="315.7" stroke="#8b6ccc" stroke-width="0.5" stroke-opacity="0.55"/>
<line x1="470.1" y1="295.8" x2="489.7" y2="313.6" stroke="#8b6ccc" stroke-width="0.5" stroke-opacity="0.55"/>
<line x1="470.1" y1="295.8" x2="481.3" y2="319.4" stroke="#8b6ccc" stroke-width="0.5" stroke-opacity="0.55"/>
<line x1="485.5" y1="291.4" x2="454.2" y2="304.9" stroke="#8b6ccc" stroke-width="0.5" stroke-opacity="0.55"/>
<line x1="485.5" y1="291.4" x2="464.9" y2="303.5" stroke="#8b6ccc" stroke-width="0.5" stroke-opacity="0.55"/>
<line x1="485.5" y1="291.4" x2="479.9" y2="305.6" stroke="#8b6ccc" stroke-width="0.5" stroke-opacity="0.55"/>
<line x1="485.5" y1="291.4" x2="464.9" y2="315.7" stroke="#8b6ccc" stroke-width="0.5" stroke-opacity="0.55"/>
<line x1="485.5" y1="291.4" x2="489.7" y2="313.6" stroke="#8b6ccc" stroke-width="0.5" stroke-opacity="0.55"/>
<line x1="485.5" y1="291.4" x2="481.3" y2="319.4" stroke="#8b6ccc" stroke-width="0.5" stroke-opacity="0.55"/>
<line x1="454.2" y1="304.9" x2="464.9" y2="303.5" stroke="#8b6ccc" stroke-width="0.5" stroke-opacity="0.55"/>
<line x1="454.2" y1="304.9" x2="479.9" y2="305.6" stroke="#8b6ccc" stroke-width="0.5" stroke-opacity="0.55"/>
<line x1="454.2" y1="304.9" x2="464.9" y2="315.7" stroke="#8b6ccc" stroke-width="0.5" stroke-opacity="0.55"/>
<line x1="454.2" y1="304.9" x2="489.7" y2="313.6" stroke="#8b6ccc" stroke-width="0.5" stroke-opacity="0.55"/>
<line x1="454.2" y1="304.9" x2="481.3" y2="319.4" stroke="#8b6ccc" stroke-width="0.5" stroke-opacity="0.55"/>
<line x1="464.9" y1="303.5" x2="479.9" y2="305.6" stroke="#8b6ccc" stroke-width="0.5" stroke-opacity="0.55"/>
<line x1="464.9" y1="303.5" x2="464.9" y2="315.7" stroke="#8b6ccc" stroke-width="0.5" stroke-opacity="0.55"/>
<line x1="464.9" y1="303.5" x2="489.7" y2="313.6" stroke="#8b6ccc" stroke-width="0.5" stroke-opacity="0.55"/>
<line x1="479.9" y1="305.6" x2="464.9" y2="315.7" stroke="#8b6ccc" stroke-width="0.5" stroke-opacity="0.55"/>
<line x1="479.9" y1="305.6" x2="489.7" y2="313.6" stroke="#8b6ccc" stroke-width="0.5" stroke-opacity="0.55"/>
<line x1="479.9" y1="305.6" x2="481.3" y2="319.4" stroke="#8b6ccc" stroke-width="0.5" stroke-opacity="0.55"/>
<line x1="464.9" y1="315.7" x2="489.7" y2="313.6" stroke="#8b6ccc" stroke-width="0.5" stroke-opacity="0.55"/>
<line x1="464.9" y1="315.7" x2="481.3" y2="319.4" stroke="#8b6ccc" stroke-width="0.5" stroke-opacity="0.55"/>
<line x1="489.7" y1="313.6" x2="481.3" y2="319.4" stroke="#8b6ccc" stroke-width="0.5" stroke-opacity="0.55"/>
<line x1="421.2" y1="251.6" x2="464.9" y2="303.5" stroke="#8b6ccc" stroke-width="0.45" stroke-opacity="0.45"/>
<line x1="450.9" y1="254.0" x2="485.5" y2="291.4" stroke="#8b6ccc" stroke-width="0.45" stroke-opacity="0.45"/>
<line x1="450.9" y1="254.0" x2="479.9" y2="305.6" stroke="#8b6ccc" stroke-width="0.45" stroke-opacity="0.45"/>
<line x1="454.9" y1="259.9" x2="457.5" y2="282.5" stroke="#8b6ccc" stroke-width="0.45" stroke-opacity="0.45"/>
<line x1="454.9" y1="259.9" x2="464.9" y2="303.5" stroke="#8b6ccc" stroke-width="0.45" stroke-opacity="0.45"/>
<line x1="454.9" y1="259.9" x2="479.9" y2="305.6" stroke="#8b6ccc" stroke-width="0.45" stroke-opacity="0.45"/>
<line x1="454.9" y1="259.9" x2="489.7" y2="313.6" stroke="#8b6ccc" stroke-width="0.45" stroke-opacity="0.45"/>
<line x1="454.9" y1="259.9" x2="481.3" y2="319.4" stroke="#8b6ccc" stroke-width="0.45" stroke-opacity="0.45"/>
<line x1="435.6" y1="267.5" x2="457.5" y2="282.5" stroke="#8b6ccc" stroke-width="0.45" stroke-opacity="0.45"/>
<line x1="435.6" y1="267.5" x2="451.9" y2="293.7" stroke="#8b6ccc" stroke-width="0.45" stroke-opacity="0.45"/>
<line x1="435.6" y1="267.5" x2="470.1" y2="295.8" stroke="#8b6ccc" stroke-width="0.45" stroke-opacity="0.45"/>
<line x1="435.6" y1="267.5" x2="454.2" y2="304.9" stroke="#8b6ccc" stroke-width="0.45" stroke-opacity="0.45"/>
<line x1="435.6" y1="267.5" x2="464.9" y2="303.5" stroke="#8b6ccc" stroke-width="0.45" stroke-opacity="0.45"/>
<line x1="435.6" y1="267.5" x2="479.9" y2="305.6" stroke="#8b6ccc" stroke-width="0.45" stroke-opacity="0.45"/>
<line x1="435.6" y1="267.5" x2="481.3" y2="319.4" stroke="#8b6ccc" stroke-width="0.45" stroke-opacity="0.45"/>
<line x1="450.0" y1="267.6" x2="457.5" y2="282.5" stroke="#8b6ccc" stroke-width="0.45" stroke-opacity="0.45"/>
<line x1="450.0" y1="267.6" x2="464.9" y2="303.5" stroke="#8b6ccc" stroke-width="0.45" stroke-opacity="0.45"/>
<line x1="450.0" y1="267.6" x2="479.9" y2="305.6" stroke="#8b6ccc" stroke-width="0.45" stroke-opacity="0.45"/>
<line x1="450.0" y1="267.6" x2="464.9" y2="315.7" stroke="#8b6ccc" stroke-width="0.45" stroke-opacity="0.45"/>
<line x1="465.2" y1="268.5" x2="457.5" y2="282.5" stroke="#8b6ccc" stroke-width="0.45" stroke-opacity="0.45"/>
<line x1="465.2" y1="268.5" x2="451.9" y2="293.7" stroke="#8b6ccc" stroke-width="0.45" stroke-opacity="0.45"/>
<line x1="465.2" y1="268.5" x2="470.1" y2="295.8" stroke="#8b6ccc" stroke-width="0.45" stroke-opacity="0.45"/>
<line x1="465.2" y1="268.5" x2="485.5" y2="291.4" stroke="#8b6ccc" stroke-width="0.45" stroke-opacity="0.45"/>
<line x1="465.2" y1="268.5" x2="454.2" y2="304.9" stroke="#8b6ccc" stroke-width="0.45" stroke-opacity="0.45"/>
<line x1="465.2" y1="268.5" x2="479.9" y2="305.6" stroke="#8b6ccc" stroke-width="0.45" stroke-opacity="0.45"/>
<line x1="465.2" y1="268.5" x2="464.9" y2="315.7" stroke="#8b6ccc" stroke-width="0.45" stroke-opacity="0.45"/>
<line x1="465.2" y1="268.5" x2="489.7" y2="313.6" stroke="#8b6ccc" stroke-width="0.45" stroke-opacity="0.45"/>
<line x1="465.2" y1="268.5" x2="481.3" y2="319.4" stroke="#8b6ccc" stroke-width="0.45" stroke-opacity="0.45"/>
<line x1="516.3" y1="263.4" x2="532.7" y2="257.1" stroke="#8b6ccc" stroke-width="0.6" stroke-opacity="0.7"/>
<line x1="516.3" y1="263.4" x2="510.7" y2="278.1" stroke="#8b6ccc" stroke-width="0.6" stroke-opacity="0.7"/>
<line x1="516.3" y1="263.4" x2="523.3" y2="275.7" stroke="#8b6ccc" stroke-width="0.6" stroke-opacity="0.7"/>
<line x1="516.3" y1="263.4" x2="533.8" y2="287.7" stroke="#8b6ccc" stroke-width="0.6" stroke-opacity="0.7"/>
<line x1="516.3" y1="263.4" x2="513.3" y2="296.3" stroke="#8b6ccc" stroke-width="0.6" stroke-opacity="0.7"/>
<line x1="532.7" y1="257.1" x2="542.5" y2="271.5" stroke="#8b6ccc" stroke-width="0.6" stroke-opacity="0.7"/>
<line x1="532.7" y1="257.1" x2="510.7" y2="278.1" stroke="#8b6ccc" stroke-width="0.6" stroke-opacity="0.7"/>
<line x1="532.7" y1="257.1" x2="523.3" y2="275.7" stroke="#8b6ccc" stroke-width="0.6" stroke-opacity="0.7"/>
<line x1="532.7" y1="257.1" x2="533.8" y2="287.7" stroke="#8b6ccc" stroke-width="0.6" stroke-opacity="0.7"/>
<line x1="532.7" y1="257.1" x2="513.3" y2="296.3" stroke="#8b6ccc" stroke-width="0.6" stroke-opacity="0.7"/>
<line x1="542.5" y1="271.5" x2="510.7" y2="278.1" stroke="#8b6ccc" stroke-width="0.6" stroke-opacity="0.7"/>
<line x1="542.5" y1="271.5" x2="523.3" y2="275.7" stroke="#8b6ccc" stroke-width="0.6" stroke-opacity="0.7"/>
<line x1="542.5" y1="271.5" x2="533.8" y2="287.7" stroke="#8b6ccc" stroke-width="0.6" stroke-opacity="0.7"/>
<line x1="542.5" y1="271.5" x2="513.3" y2="296.3" stroke="#8b6ccc" stroke-width="0.6" stroke-opacity="0.7"/>
<line x1="510.7" y1="278.1" x2="523.3" y2="275.7" stroke="#8b6ccc" stroke-width="0.6" stroke-opacity="0.7"/>
<line x1="510.7" y1="278.1" x2="533.8" y2="287.7" stroke="#8b6ccc" stroke-width="0.6" stroke-opacity="0.7"/>
<line x1="510.7" y1="278.1" x2="513.3" y2="296.3" stroke="#8b6ccc" stroke-width="0.6" stroke-opacity="0.7"/>
<line x1="523.3" y1="275.7" x2="533.8" y2="287.7" stroke="#8b6ccc" stroke-width="0.6" stroke-opacity="0.7"/>
<line x1="523.3" y1="275.7" x2="513.3" y2="296.3" stroke="#8b6ccc" stroke-width="0.6" stroke-opacity="0.7"/>
<line x1="533.8" y1="287.7" x2="513.3" y2="296.3" stroke="#8b6ccc" stroke-width="0.6" stroke-opacity="0.7"/>
<line x1="523.3" y1="275.7" x2="532.7" y2="257.1" stroke="#6a3db0" stroke-width="1.0" stroke-opacity="0.85"/>
<line x1="523.3" y1="275.7" x2="542.5" y2="271.5" stroke="#6a3db0" stroke-width="0.7" stroke-opacity="0.85"/>
<line x1="445.3" y1="347.1" x2="469.2" y2="350.6" stroke="#8b6ccc" stroke-width="0.6" stroke-opacity="0.8"/>
<line x1="445.3" y1="347.1" x2="454.3" y2="369.3" stroke="#8b6ccc" stroke-width="0.6" stroke-opacity="0.8"/>
<line x1="469.2" y1="350.6" x2="454.3" y2="369.3" stroke="#8b6ccc" stroke-width="0.6" stroke-opacity="0.8"/>
<line x1="469.2" y1="350.6" x2="478.3" y2="373.1" stroke="#8b6ccc" stroke-width="0.6" stroke-opacity="0.8"/>
<line x1="454.3" y1="369.3" x2="478.3" y2="373.1" stroke="#8b6ccc" stroke-width="0.6" stroke-opacity="0.8"/>
<line x1="522.6" y1="342.1" x2="540.5" y2="335.7" stroke="#8b6ccc" stroke-width="0.6" stroke-opacity="0.75"/>
<line x1="522.6" y1="342.1" x2="548.6" y2="352.9" stroke="#8b6ccc" stroke-width="0.6" stroke-opacity="0.75"/>
<line x1="522.6" y1="342.1" x2="521.5" y2="359.1" stroke="#8b6ccc" stroke-width="0.6" stroke-opacity="0.75"/>
<line x1="522.6" y1="342.1" x2="537.5" y2="365.2" stroke="#8b6ccc" stroke-width="0.6" stroke-opacity="0.75"/>
<line x1="540.5" y1="335.7" x2="548.6" y2="352.9" stroke="#8b6ccc" stroke-width="0.6" stroke-opacity="0.75"/>
<line x1="540.5" y1="335.7" x2="521.5" y2="359.1" stroke="#8b6ccc" stroke-width="0.6" stroke-opacity="0.75"/>
<line x1="540.5" y1="335.7" x2="537.5" y2="365.2" stroke="#8b6ccc" stroke-width="0.6" stroke-opacity="0.75"/>
<line x1="548.6" y1="352.9" x2="521.5" y2="359.1" stroke="#8b6ccc" stroke-width="0.6" stroke-opacity="0.75"/>
<line x1="548.6" y1="352.9" x2="537.5" y2="365.2" stroke="#8b6ccc" stroke-width="0.6" stroke-opacity="0.75"/>
<line x1="521.5" y1="359.1" x2="537.5" y2="365.2" stroke="#8b6ccc" stroke-width="0.6" stroke-opacity="0.75"/>
<line x1="522.6" y1="342.1" x2="548.6" y2="352.9" stroke="#6a3db0" stroke-width="0.9" stroke-opacity="0.85"/>
<line x1="540.5" y1="335.7" x2="521.5" y2="359.1" stroke="#6a3db0" stroke-width="0.9" stroke-opacity="0.85"/>
<line x1="522.6" y1="342.1" x2="537.5" y2="365.2" stroke="#6a3db0" stroke-width="0.8" stroke-opacity="0.85"/>
<line x1="453.5" y1="400.2" x2="465.8" y2="397.8" stroke="#8b6ccc" stroke-width="0.6" stroke-opacity="0.7"/>
<line x1="453.5" y1="400.2" x2="479.9" y2="403.9" stroke="#8b6ccc" stroke-width="0.6" stroke-opacity="0.7"/>
<line x1="453.5" y1="400.2" x2="448.8" y2="408.4" stroke="#8b6ccc" stroke-width="0.6" stroke-opacity="0.7"/>
<line x1="453.5" y1="400.2" x2="451.7" y2="415.5" stroke="#8b6ccc" stroke-width="0.6" stroke-opacity="0.7"/>
<line x1="453.5" y1="400.2" x2="465.8" y2="412.5" stroke="#8b6ccc" stroke-width="0.6" stroke-opacity="0.7"/>
<line x1="453.5" y1="400.2" x2="481.7" y2="418.6" stroke="#8b6ccc" stroke-width="0.6" stroke-opacity="0.7"/>
<line x1="453.5" y1="400.2" x2="457.4" y2="427.8" stroke="#8b6ccc" stroke-width="0.6" stroke-opacity="0.7"/>
<line x1="453.5" y1="400.2" x2="469.2" y2="426.4" stroke="#8b6ccc" stroke-width="0.6" stroke-opacity="0.7"/>
<line x1="465.8" y1="397.8" x2="448.8" y2="408.4" stroke="#8b6ccc" stroke-width="0.6" stroke-opacity="0.7"/>
<line x1="465.8" y1="397.8" x2="451.7" y2="415.5" stroke="#8b6ccc" stroke-width="0.6" stroke-opacity="0.7"/>
<line x1="465.8" y1="397.8" x2="465.8" y2="412.5" stroke="#8b6ccc" stroke-width="0.6" stroke-opacity="0.7"/>
<line x1="465.8" y1="397.8" x2="481.7" y2="418.6" stroke="#8b6ccc" stroke-width="0.6" stroke-opacity="0.7"/>
<line x1="465.8" y1="397.8" x2="457.4" y2="427.8" stroke="#8b6ccc" stroke-width="0.6" stroke-opacity="0.7"/>
<line x1="479.9" y1="403.9" x2="448.8" y2="408.4" stroke="#8b6ccc" stroke-width="0.6" stroke-opacity="0.7"/>
<line x1="479.9" y1="403.9" x2="451.7" y2="415.5" stroke="#8b6ccc" stroke-width="0.6" stroke-opacity="0.7"/>
<line x1="479.9" y1="403.9" x2="465.8" y2="412.5" stroke="#8b6ccc" stroke-width="0.6" stroke-opacity="0.7"/>
<line x1="479.9" y1="403.9" x2="481.7" y2="418.6" stroke="#8b6ccc" stroke-width="0.6" stroke-opacity="0.7"/>
<line x1="479.9" y1="403.9" x2="457.4" y2="427.8" stroke="#8b6ccc" stroke-width="0.6" stroke-opacity="0.7"/>
<line x1="479.9" y1="403.9" x2="469.2" y2="426.4" stroke="#8b6ccc" stroke-width="0.6" stroke-opacity="0.7"/>
<line x1="448.8" y1="408.4" x2="451.7" y2="415.5" stroke="#8b6ccc" stroke-width="0.6" stroke-opacity="0.7"/>
<line x1="448.8" y1="408.4" x2="465.8" y2="412.5" stroke="#8b6ccc" stroke-width="0.6" stroke-opacity="0.7"/>
<line x1="448.8" y1="408.4" x2="481.7" y2="418.6" stroke="#8b6ccc" stroke-width="0.6" stroke-opacity="0.7"/>
<line x1="448.8" y1="408.4" x2="457.4" y2="427.8" stroke="#8b6ccc" stroke-width="0.6" stroke-opacity="0.7"/>
<line x1="448.8" y1="408.4" x2="469.2" y2="426.4" stroke="#8b6ccc" stroke-width="0.6" stroke-opacity="0.7"/>
<line x1="451.7" y1="415.5" x2="481.7" y2="418.6" stroke="#8b6ccc" stroke-width="0.6" stroke-opacity="0.7"/>
<line x1="451.7" y1="415.5" x2="457.4" y2="427.8" stroke="#8b6ccc" stroke-width="0.6" stroke-opacity="0.7"/>
<line x1="451.7" y1="415.5" x2="469.2" y2="426.4" stroke="#8b6ccc" stroke-width="0.6" stroke-opacity="0.7"/>
<line x1="465.8" y1="412.5" x2="481.7" y2="418.6" stroke="#8b6ccc" stroke-width="0.6" stroke-opacity="0.7"/>
<line x1="465.8" y1="412.5" x2="457.4" y2="427.8" stroke="#8b6ccc" stroke-width="0.6" stroke-opacity="0.7"/>
<line x1="465.8" y1="412.5" x2="469.2" y2="426.4" stroke="#8b6ccc" stroke-width="0.6" stroke-opacity="0.7"/>
<line x1="481.7" y1="418.6" x2="457.4" y2="427.8" stroke="#8b6ccc" stroke-width="0.6" stroke-opacity="0.7"/>
<line x1="481.7" y1="418.6" x2="469.2" y2="426.4" stroke="#8b6ccc" stroke-width="0.6" stroke-opacity="0.7"/>
<line x1="457.4" y1="427.8" x2="469.2" y2="426.4" stroke="#8b6ccc" stroke-width="0.6" stroke-opacity="0.7"/>
<line x1="465.8" y1="412.5" x2="453.5" y2="400.2" stroke="#6a3db0" stroke-width="1.0" stroke-opacity="0.85"/>
<line x1="465.8" y1="412.5" x2="465.8" y2="397.8" stroke="#6a3db0" stroke-width="1.0" stroke-opacity="0.85"/>
<line x1="465.8" y1="412.5" x2="479.9" y2="403.9" stroke="#6a3db0" stroke-width="1.0" stroke-opacity="0.85"/>
<line x1="465.8" y1="412.5" x2="451.7" y2="415.5" stroke="#6a3db0" stroke-width="1.0" stroke-opacity="0.85"/>
<line x1="465.8" y1="412.5" x2="481.7" y2="418.6" stroke="#6a3db0" stroke-width="1.0" stroke-opacity="0.85"/>
<line x1="465.8" y1="412.5" x2="457.4" y2="427.8" stroke="#6a3db0" stroke-width="1.0" stroke-opacity="0.85"/>
<line x1="465.8" y1="412.5" x2="469.2" y2="426.4" stroke="#6a3db0" stroke-width="1.0" stroke-opacity="0.85"/>
<line x1="525.4" y1="397.2" x2="549.4" y2="399.8" stroke="#8b6ccc" stroke-width="0.6" stroke-opacity="0.8"/>
<line x1="525.4" y1="397.2" x2="535.3" y2="411.5" stroke="#8b6ccc" stroke-width="0.6" stroke-opacity="0.8"/>
<line x1="549.4" y1="399.8" x2="535.3" y2="411.5" stroke="#8b6ccc" stroke-width="0.6" stroke-opacity="0.8"/>
<line x1="477.0" y1="445.1" x2="479.9" y2="454.9" stroke="#8b6ccc" stroke-width="0.55" stroke-opacity="0.7"/>
<line x1="477.0" y1="445.1" x2="468.4" y2="459.8" stroke="#8b6ccc" stroke-width="0.55" stroke-opacity="0.7"/>
<line x1="477.0" y1="445.1" x2="474.7" y2="478.0" stroke="#8b6ccc" stroke-width="0.55" stroke-opacity="0.7"/>
<line x1="456.6" y1="455.3" x2="479.9" y2="454.9" stroke="#8b6ccc" stroke-width="0.55" stroke-opacity="0.7"/>
<line x1="456.6" y1="455.3" x2="468.4" y2="459.8" stroke="#8b6ccc" stroke-width="0.55" stroke-opacity="0.7"/>
<line x1="456.6" y1="455.3" x2="488.6" y2="467.6" stroke="#8b6ccc" stroke-width="0.55" stroke-opacity="0.7"/>
<line x1="456.6" y1="455.3" x2="463.3" y2="474.1" stroke="#8b6ccc" stroke-width="0.55" stroke-opacity="0.7"/>
<line x1="456.6" y1="455.3" x2="474.7" y2="478.0" stroke="#8b6ccc" stroke-width="0.55" stroke-opacity="0.7"/>
<line x1="456.6" y1="455.3" x2="446.7" y2="480.5" stroke="#8b6ccc" stroke-width="0.55" stroke-opacity="0.7"/>
<line x1="479.9" y1="454.9" x2="468.4" y2="459.8" stroke="#8b6ccc" stroke-width="0.55" stroke-opacity="0.7"/>
<line x1="479.9" y1="454.9" x2="488.6" y2="467.6" stroke="#8b6ccc" stroke-width="0.55" stroke-opacity="0.7"/>
<line x1="479.9" y1="454.9" x2="463.3" y2="474.1" stroke="#8b6ccc" stroke-width="0.55" stroke-opacity="0.7"/>
<line x1="479.9" y1="454.9" x2="474.7" y2="478.0" stroke="#8b6ccc" stroke-width="0.55" stroke-opacity="0.7"/>
<line x1="479.9" y1="454.9" x2="446.7" y2="480.5" stroke="#8b6ccc" stroke-width="0.55" stroke-opacity="0.7"/>
<line x1="468.4" y1="459.8" x2="488.6" y2="467.6" stroke="#8b6ccc" stroke-width="0.55" stroke-opacity="0.7"/>
<line x1="468.4" y1="459.8" x2="463.3" y2="474.1" stroke="#8b6ccc" stroke-width="0.55" stroke-opacity="0.7"/>
<line x1="468.4" y1="459.8" x2="474.7" y2="478.0" stroke="#8b6ccc" stroke-width="0.55" stroke-opacity="0.7"/>
<line x1="468.4" y1="459.8" x2="446.7" y2="480.5" stroke="#8b6ccc" stroke-width="0.55" stroke-opacity="0.7"/>
<line x1="488.6" y1="467.6" x2="463.3" y2="474.1" stroke="#8b6ccc" stroke-width="0.55" stroke-opacity="0.7"/>
<line x1="488.6" y1="467.6" x2="474.7" y2="478.0" stroke="#8b6ccc" stroke-width="0.55" stroke-opacity="0.7"/>
<line x1="488.6" y1="467.6" x2="446.7" y2="480.5" stroke="#8b6ccc" stroke-width="0.55" stroke-opacity="0.7"/>
<line x1="463.3" y1="474.1" x2="474.7" y2="478.0" stroke="#8b6ccc" stroke-width="0.55" stroke-opacity="0.7"/>
<line x1="463.3" y1="474.1" x2="446.7" y2="480.5" stroke="#8b6ccc" stroke-width="0.55" stroke-opacity="0.7"/>
<line x1="477.0" y1="445.1" x2="474.7" y2="478.0" stroke="#6a3db0" stroke-width="0.8" stroke-opacity="0.85"/>
<line x1="479.9" y1="454.9" x2="463.3" y2="474.1" stroke="#6a3db0" stroke-width="0.8" stroke-opacity="0.85"/>
<line x1="521.0" y1="465.0" x2="533.2" y2="465.5" stroke="#8b6ccc" stroke-width="0.6" stroke-opacity="0.6"/>
<line x1="533.2" y1="465.5" x2="530.0" y2="453.5" stroke="#8b6ccc" stroke-width="0.6" stroke-opacity="0.6"/>
<line x1="530.0" y1="453.5" x2="542.4" y2="452.9" stroke="#8b6ccc" stroke-width="0.6" stroke-opacity="0.6"/>
<line x1="542.4" y1="452.9" x2="551.8" y2="459.8" stroke="#8b6ccc" stroke-width="0.6" stroke-opacity="0.6"/>
<line x1="551.8" y1="459.8" x2="554.9" y2="472.1" stroke="#8b6ccc" stroke-width="0.6" stroke-opacity="0.6"/>
<line x1="554.9" y1="472.1" x2="542.8" y2="471.3" stroke="#8b6ccc" stroke-width="0.6" stroke-opacity="0.6"/>
<line x1="542.8" y1="471.3" x2="546.1" y2="483.3" stroke="#8b6ccc" stroke-width="0.6" stroke-opacity="0.6"/>
<line x1="546.1" y1="483.3" x2="533.2" y2="484.0" stroke="#8b6ccc" stroke-width="0.6" stroke-opacity="0.6"/>
<line x1="533.2" y1="484.0" x2="523.8" y2="477.4" stroke="#8b6ccc" stroke-width="0.6" stroke-opacity="0.6"/>
<line x1="523.8" y1="477.4" x2="521.0" y2="465.0" stroke="#8b6ccc" stroke-width="0.6" stroke-opacity="0.6"/>
<line x1="537.7" y1="468.6" x2="530.0" y2="453.5" stroke="#6a3db0" stroke-width="1.1" stroke-opacity="0.85"/>
<line x1="537.7" y1="468.6" x2="542.4" y2="452.9" stroke="#6a3db0" stroke-width="1.1" stroke-opacity="0.85"/>
<line x1="537.7" y1="468.6" x2="551.8" y2="459.8" stroke="#6a3db0" stroke-width="1.1" stroke-opacity="0.85"/>
<line x1="537.7" y1="468.6" x2="521.0" y2="465.0" stroke="#6a3db0" stroke-width="1.1" stroke-opacity="0.85"/>
<line x1="537.7" y1="468.6" x2="533.2" y2="465.5" stroke="#6a3db0" stroke-width="1.1" stroke-opacity="0.85"/>
<line x1="537.7" y1="468.6" x2="542.8" y2="471.3" stroke="#6a3db0" stroke-width="1.1" stroke-opacity="0.85"/>
<line x1="537.7" y1="468.6" x2="554.9" y2="472.1" stroke="#6a3db0" stroke-width="1.1" stroke-opacity="0.85"/>
<line x1="537.7" y1="468.6" x2="523.8" y2="477.4" stroke="#6a3db0" stroke-width="1.1" stroke-opacity="0.85"/>
<line x1="537.7" y1="468.6" x2="533.2" y2="484.0" stroke="#6a3db0" stroke-width="1.1" stroke-opacity="0.85"/>
<line x1="537.7" y1="468.6" x2="546.1" y2="483.3" stroke="#6a3db0" stroke-width="1.1" stroke-opacity="0.85"/>
<line x1="501.4" y1="498.9" x2="502.4" y2="515.0" stroke="#8b6ccc" stroke-width="0.6" stroke-opacity="0.6"/>
<line x1="501.4" y1="498.9" x2="516.6" y2="522.1" stroke="#8b6ccc" stroke-width="0.6" stroke-opacity="0.6"/>
<line x1="487.6" y1="508.1" x2="503.4" y2="531.4" stroke="#8b6ccc" stroke-width="0.6" stroke-opacity="0.6"/>
<line x1="517.6" y1="509.3" x2="502.4" y2="515.0" stroke="#8b6ccc" stroke-width="0.6" stroke-opacity="0.6"/>
<line x1="517.6" y1="509.3" x2="516.6" y2="522.1" stroke="#8b6ccc" stroke-width="0.6" stroke-opacity="0.6"/>
<line x1="517.6" y1="509.3" x2="503.4" y2="531.4" stroke="#8b6ccc" stroke-width="0.6" stroke-opacity="0.6"/>
<line x1="502.4" y1="515.0" x2="488.8" y2="524.5" stroke="#8b6ccc" stroke-width="0.6" stroke-opacity="0.6"/>
<line x1="502.4" y1="515.0" x2="516.6" y2="522.1" stroke="#8b6ccc" stroke-width="0.6" stroke-opacity="0.6"/>
<line x1="502.4" y1="515.0" x2="503.4" y2="531.4" stroke="#8b6ccc" stroke-width="0.6" stroke-opacity="0.6"/>
<line x1="488.8" y1="524.5" x2="516.6" y2="522.1" stroke="#8b6ccc" stroke-width="0.6" stroke-opacity="0.6"/>
<line x1="516.6" y1="522.1" x2="503.4" y2="531.4" stroke="#8b6ccc" stroke-width="0.6" stroke-opacity="0.6"/>
<line x1="502.4" y1="515.0" x2="501.4" y2="498.9" stroke="#6a3db0" stroke-width="1.1" stroke-opacity="0.85"/>
<line x1="502.4" y1="515.0" x2="487.6" y2="508.1" stroke="#6a3db0" stroke-width="1.1" stroke-opacity="0.85"/>
<line x1="502.4" y1="515.0" x2="517.6" y2="509.3" stroke="#6a3db0" stroke-width="1.1" stroke-opacity="0.85"/>
<line x1="502.4" y1="515.0" x2="488.8" y2="524.5" stroke="#6a3db0" stroke-width="1.1" stroke-opacity="0.85"/>
<line x1="502.4" y1="515.0" x2="516.6" y2="522.1" stroke="#6a3db0" stroke-width="1.1" stroke-opacity="0.85"/>
<line x1="502.4" y1="515.0" x2="503.4" y2="531.4" stroke="#6a3db0" stroke-width="1.1" stroke-opacity="0.85"/>
<line x1="550.0" y1="639.5" x2="534.5" y2="634.8" stroke="#6a3db0" stroke-width="1.1" stroke-opacity="0.85"/>
<line x1="550.0" y1="639.5" x2="545.0" y2="630.2" stroke="#6a3db0" stroke-width="1.1" stroke-opacity="0.85"/>
<line x1="550.0" y1="639.5" x2="555.1" y2="629.6" stroke="#6a3db0" stroke-width="1.1" stroke-opacity="0.85"/>
<line x1="550.0" y1="639.5" x2="557.1" y2="638.8" stroke="#6a3db0" stroke-width="1.1" stroke-opacity="0.85"/>
<line x1="550.0" y1="639.5" x2="527.9" y2="645.1" stroke="#6a3db0" stroke-width="1.1" stroke-opacity="0.85"/>
<line x1="550.0" y1="639.5" x2="543.7" y2="643.4" stroke="#6a3db0" stroke-width="1.1" stroke-opacity="0.85"/>
<line x1="550.0" y1="639.5" x2="552.6" y2="649.4" stroke="#6a3db0" stroke-width="1.1" stroke-opacity="0.85"/>
<line x1="550.0" y1="639.5" x2="535.5" y2="654.5" stroke="#6a3db0" stroke-width="1.1" stroke-opacity="0.85"/>
<line x1="550.0" y1="639.5" x2="547.6" y2="659.8" stroke="#6a3db0" stroke-width="1.1" stroke-opacity="0.85"/>
<line x1="550.0" y1="639.5" x2="558.1" y2="658.2" stroke="#6a3db0" stroke-width="1.1" stroke-opacity="0.85"/>
<line x1="555.1" y1="629.6" x2="543.7" y2="643.4" stroke="#8b6ccc" stroke-width="0.5" stroke-opacity="0.55"/>
<line x1="557.1" y1="638.8" x2="543.7" y2="643.4" stroke="#8b6ccc" stroke-width="0.5" stroke-opacity="0.55"/>
<line x1="557.1" y1="638.8" x2="552.6" y2="649.4" stroke="#8b6ccc" stroke-width="0.5" stroke-opacity="0.55"/>
<line x1="527.9" y1="645.1" x2="543.7" y2="643.4" stroke="#8b6ccc" stroke-width="0.5" stroke-opacity="0.55"/>
<line x1="543.7" y1="643.4" x2="547.6" y2="659.8" stroke="#8b6ccc" stroke-width="0.5" stroke-opacity="0.55"/>
<line x1="535.5" y1="654.5" x2="547.6" y2="659.8" stroke="#8b6ccc" stroke-width="0.5" stroke-opacity="0.55"/>
<line x1="573.2" y1="615.5" x2="583.7" y2="618.8" stroke="#8b6ccc" stroke-width="0.5" stroke-opacity="0.55"/>
<line x1="573.2" y1="615.5" x2="563.6" y2="621.4" stroke="#8b6ccc" stroke-width="0.5" stroke-opacity="0.55"/>
<line x1="573.2" y1="615.5" x2="585.7" y2="632.2" stroke="#8b6ccc" stroke-width="0.5" stroke-opacity="0.55"/>
<line x1="573.2" y1="615.5" x2="579.5" y2="641.4" stroke="#8b6ccc" stroke-width="0.5" stroke-opacity="0.55"/>
<line x1="583.7" y1="618.8" x2="568.6" y2="633.9" stroke="#8b6ccc" stroke-width="0.5" stroke-opacity="0.55"/>
<line x1="583.7" y1="618.8" x2="579.5" y2="641.4" stroke="#8b6ccc" stroke-width="0.5" stroke-opacity="0.55"/>
<line x1="583.7" y1="618.8" x2="568.4" y2="647.6" stroke="#8b6ccc" stroke-width="0.5" stroke-opacity="0.55"/>
<line x1="563.6" y1="621.4" x2="568.6" y2="633.9" stroke="#8b6ccc" stroke-width="0.5" stroke-opacity="0.55"/>
<line x1="563.6" y1="621.4" x2="585.7" y2="632.2" stroke="#8b6ccc" stroke-width="0.5" stroke-opacity="0.55"/>
<line x1="563.6" y1="621.4" x2="579.5" y2="641.4" stroke="#8b6ccc" stroke-width="0.5" stroke-opacity="0.55"/>
<line x1="568.6" y1="633.9" x2="591.6" y2="647.6" stroke="#8b6ccc" stroke-width="0.5" stroke-opacity="0.55"/>
<line x1="568.6" y1="633.9" x2="583.1" y2="653.9" stroke="#8b6ccc" stroke-width="0.5" stroke-opacity="0.55"/>
<line x1="585.7" y1="632.2" x2="568.4" y2="647.6" stroke="#8b6ccc" stroke-width="0.5" stroke-opacity="0.55"/>
<line x1="585.7" y1="632.2" x2="591.6" y2="647.6" stroke="#8b6ccc" stroke-width="0.5" stroke-opacity="0.55"/>
<line x1="585.7" y1="632.2" x2="583.1" y2="653.9" stroke="#8b6ccc" stroke-width="0.5" stroke-opacity="0.55"/>
<line x1="585.7" y1="632.2" x2="577.8" y2="659.8" stroke="#8b6ccc" stroke-width="0.5" stroke-opacity="0.55"/>
<line x1="579.5" y1="641.4" x2="568.4" y2="647.6" stroke="#8b6ccc" stroke-width="0.5" stroke-opacity="0.55"/>
<line x1="579.5" y1="641.4" x2="591.6" y2="647.6" stroke="#8b6ccc" stroke-width="0.5" stroke-opacity="0.55"/>
<line x1="568.4" y1="647.6" x2="583.1" y2="653.9" stroke="#8b6ccc" stroke-width="0.5" stroke-opacity="0.55"/>
<line x1="591.6" y1="647.6" x2="577.8" y2="659.8" stroke="#8b6ccc" stroke-width="0.5" stroke-opacity="0.55"/>
<line x1="534.5" y1="634.8" x2="568.6" y2="633.9" stroke="#8b6ccc" stroke-width="0.45" stroke-opacity="0.45"/>
<line x1="545.0" y1="630.2" x2="568.4" y2="647.6" stroke="#8b6ccc" stroke-width="0.45" stroke-opacity="0.45"/>
<line x1="555.1" y1="629.6" x2="568.6" y2="633.9" stroke="#8b6ccc" stroke-width="0.45" stroke-opacity="0.45"/>
<line x1="555.1" y1="629.6" x2="568.4" y2="647.6" stroke="#8b6ccc" stroke-width="0.45" stroke-opacity="0.45"/>
<line x1="557.1" y1="638.8" x2="573.2" y2="615.5" stroke="#8b6ccc" stroke-width="0.45" stroke-opacity="0.45"/>
<line x1="557.1" y1="638.8" x2="585.7" y2="632.2" stroke="#8b6ccc" stroke-width="0.45" stroke-opacity="0.45"/>
<line x1="557.1" y1="638.8" x2="583.1" y2="653.9" stroke="#8b6ccc" stroke-width="0.45" stroke-opacity="0.45"/>
<line x1="557.1" y1="638.8" x2="577.8" y2="659.8" stroke="#8b6ccc" stroke-width="0.45" stroke-opacity="0.45"/>
<line x1="543.7" y1="643.4" x2="563.6" y2="621.4" stroke="#8b6ccc" stroke-width="0.45" stroke-opacity="0.45"/>
<line x1="543.7" y1="643.4" x2="579.5" y2="641.4" stroke="#8b6ccc" stroke-width="0.45" stroke-opacity="0.45"/>
<line x1="543.7" y1="643.4" x2="568.4" y2="647.6" stroke="#8b6ccc" stroke-width="0.45" stroke-opacity="0.45"/>
<line x1="552.6" y1="649.4" x2="568.6" y2="633.9" stroke="#8b6ccc" stroke-width="0.45" stroke-opacity="0.45"/>
<line x1="552.6" y1="649.4" x2="585.7" y2="632.2" stroke="#8b6ccc" stroke-width="0.45" stroke-opacity="0.45"/>
<line x1="552.6" y1="649.4" x2="583.1" y2="653.9" stroke="#8b6ccc" stroke-width="0.45" stroke-opacity="0.45"/>
<line x1="552.6" y1="649.4" x2="577.8" y2="659.8" stroke="#8b6ccc" stroke-width="0.45" stroke-opacity="0.45"/>
<line x1="547.6" y1="659.8" x2="568.6" y2="633.9" stroke="#8b6ccc" stroke-width="0.45" stroke-opacity="0.45"/>
<line x1="547.6" y1="659.8" x2="577.8" y2="659.8" stroke="#8b6ccc" stroke-width="0.45" stroke-opacity="0.45"/>
<line x1="558.1" y1="658.2" x2="568.6" y2="633.9" stroke="#8b6ccc" stroke-width="0.45" stroke-opacity="0.45"/>
<line x1="558.1" y1="658.2" x2="577.8" y2="659.8" stroke="#8b6ccc" stroke-width="0.45" stroke-opacity="0.45"/>
<line x1="545.0" y1="630.2" x2="574.7" y2="673.1" stroke="#8b6ccc" stroke-width="0.45" stroke-opacity="0.45"/>
<line x1="555.1" y1="629.6" x2="574.7" y2="673.1" stroke="#8b6ccc" stroke-width="0.45" stroke-opacity="0.45"/>
<line x1="543.7" y1="643.4" x2="574.7" y2="673.1" stroke="#8b6ccc" stroke-width="0.45" stroke-opacity="0.45"/>
<line x1="543.7" y1="643.4" x2="561.2" y2="693.1" stroke="#8b6ccc" stroke-width="0.45" stroke-opacity="0.45"/>
<line x1="535.5" y1="654.5" x2="574.7" y2="673.1" stroke="#8b6ccc" stroke-width="0.45" stroke-opacity="0.45"/>
<line x1="568.6" y1="633.9" x2="559.3" y2="675.0" stroke="#8b6ccc" stroke-width="0.45" stroke-opacity="0.45"/>
<line x1="568.6" y1="633.9" x2="569.9" y2="688.5" stroke="#8b6ccc" stroke-width="0.45" stroke-opacity="0.45"/>
<line x1="585.7" y1="632.2" x2="569.9" y2="688.5" stroke="#8b6ccc" stroke-width="0.45" stroke-opacity="0.45"/>
<line x1="577.8" y1="659.8" x2="574.7" y2="673.1" stroke="#8b6ccc" stroke-width="0.45" stroke-opacity="0.45"/>
<line x1="559.3" y1="675.0" x2="574.7" y2="673.1" stroke="#8b6ccc" stroke-width="0.7" stroke-opacity="0.7"/>
<line x1="559.3" y1="675.0" x2="569.9" y2="688.5" stroke="#8b6ccc" stroke-width="0.7" stroke-opacity="0.7"/>
<line x1="559.3" y1="675.0" x2="561.2" y2="693.1" stroke="#8b6ccc" stroke-width="0.7" stroke-opacity="0.7"/>
<line x1="574.7" y1="673.1" x2="569.9" y2="688.5" stroke="#8b6ccc" stroke-width="0.7" stroke-opacity="0.7"/>
<line x1="574.7" y1="673.1" x2="561.2" y2="693.1" stroke="#8b6ccc" stroke-width="0.7" stroke-opacity="0.7"/>
<line x1="569.9" y1="688.5" x2="561.2" y2="693.1" stroke="#8b6ccc" stroke-width="0.7" stroke-opacity="0.7"/>
<line x1="559.3" y1="675.0" x2="564.8" y2="708.8" stroke="#8b6ccc" stroke-width="0.45" stroke-opacity="0.45"/>
<line x1="559.3" y1="675.0" x2="542.3" y2="713.1" stroke="#8b6ccc" stroke-width="0.45" stroke-opacity="0.45"/>
<line x1="559.3" y1="675.0" x2="556.7" y2="721.9" stroke="#8b6ccc" stroke-width="0.45" stroke-opacity="0.45"/>
<line x1="569.9" y1="688.5" x2="544.0" y2="723.0" stroke="#8b6ccc" stroke-width="0.45" stroke-opacity="0.45"/>
<line x1="569.9" y1="688.5" x2="548.4" y2="731.8" stroke="#8b6ccc" stroke-width="0.45" stroke-opacity="0.45"/>
<line x1="561.2" y1="693.1" x2="544.0" y2="723.0" stroke="#8b6ccc" stroke-width="0.45" stroke-opacity="0.45"/>
<line x1="551.0" y1="705.0" x2="542.3" y2="713.1" stroke="#8b6ccc" stroke-width="0.6" stroke-opacity="0.7"/>
<line x1="551.0" y1="705.0" x2="535.0" y2="721.9" stroke="#8b6ccc" stroke-width="0.6" stroke-opacity="0.7"/>
<line x1="551.0" y1="705.0" x2="544.0" y2="723.0" stroke="#8b6ccc" stroke-width="0.6" stroke-opacity="0.7"/>
<line x1="551.0" y1="705.0" x2="556.7" y2="721.9" stroke="#8b6ccc" stroke-width="0.6" stroke-opacity="0.7"/>
<line x1="551.0" y1="705.0" x2="566.4" y2="723.0" stroke="#8b6ccc" stroke-width="0.6" stroke-opacity="0.7"/>
<line x1="551.0" y1="705.0" x2="548.4" y2="731.8" stroke="#8b6ccc" stroke-width="0.6" stroke-opacity="0.7"/>
<line x1="564.8" y1="708.8" x2="542.3" y2="713.1" stroke="#8b6ccc" stroke-width="0.6" stroke-opacity="0.7"/>
<line x1="564.8" y1="708.8" x2="573.8" y2="718.2" stroke="#8b6ccc" stroke-width="0.6" stroke-opacity="0.7"/>
<line x1="564.8" y1="708.8" x2="556.7" y2="721.9" stroke="#8b6ccc" stroke-width="0.6" stroke-opacity="0.7"/>
<line x1="564.8" y1="708.8" x2="566.4" y2="723.0" stroke="#8b6ccc" stroke-width="0.6" stroke-opacity="0.7"/>
<line x1="564.8" y1="708.8" x2="548.4" y2="731.8" stroke="#8b6ccc" stroke-width="0.6" stroke-opacity="0.7"/>
<line x1="542.3" y1="713.1" x2="535.0" y2="721.9" stroke="#8b6ccc" stroke-width="0.6" stroke-opacity="0.7"/>
<line x1="542.3" y1="713.1" x2="544.0" y2="723.0" stroke="#8b6ccc" stroke-width="0.6" stroke-opacity="0.7"/>
<line x1="542.3" y1="713.1" x2="556.7" y2="721.9" stroke="#8b6ccc" stroke-width="0.6" stroke-opacity="0.7"/>
<line x1="542.3" y1="713.1" x2="566.4" y2="723.0" stroke="#8b6ccc" stroke-width="0.6" stroke-opacity="0.7"/>
<line x1="542.3" y1="713.1" x2="548.4" y2="731.8" stroke="#8b6ccc" stroke-width="0.6" stroke-opacity="0.7"/>
<line x1="573.8" y1="718.2" x2="556.7" y2="721.9" stroke="#8b6ccc" stroke-width="0.6" stroke-opacity="0.7"/>
<line x1="573.8" y1="718.2" x2="566.4" y2="723.0" stroke="#8b6ccc" stroke-width="0.6" stroke-opacity="0.7"/>
<line x1="573.8" y1="718.2" x2="548.4" y2="731.8" stroke="#8b6ccc" stroke-width="0.6" stroke-opacity="0.7"/>
<line x1="573.8" y1="718.2" x2="556.5" y2="739.6" stroke="#8b6ccc" stroke-width="0.6" stroke-opacity="0.7"/>
<line x1="535.0" y1="721.9" x2="544.0" y2="723.0" stroke="#8b6ccc" stroke-width="0.6" stroke-opacity="0.7"/>
<line x1="535.0" y1="721.9" x2="556.7" y2="721.9" stroke="#8b6ccc" stroke-width="0.6" stroke-opacity="0.7"/>
<line x1="535.0" y1="721.9" x2="548.4" y2="731.8" stroke="#8b6ccc" stroke-width="0.6" stroke-opacity="0.7"/>
<line x1="535.0" y1="721.9" x2="556.5" y2="739.6" stroke="#8b6ccc" stroke-width="0.6" stroke-opacity="0.7"/>
<line x1="544.0" y1="723.0" x2="556.7" y2="721.9" stroke="#8b6ccc" stroke-width="0.6" stroke-opacity="0.7"/>
<line x1="544.0" y1="723.0" x2="566.4" y2="723.0" stroke="#8b6ccc" stroke-width="0.6" stroke-opacity="0.7"/>
<line x1="544.0" y1="723.0" x2="548.4" y2="731.8" stroke="#8b6ccc" stroke-width="0.6" stroke-opacity="0.7"/>
<line x1="556.7" y1="721.9" x2="566.4" y2="723.0" stroke="#8b6ccc" stroke-width="0.6" stroke-opacity="0.7"/>
<line x1="556.7" y1="721.9" x2="548.4" y2="731.8" stroke="#8b6ccc" stroke-width="0.6" stroke-opacity="0.7"/>
<line x1="556.7" y1="721.9" x2="556.5" y2="739.6" stroke="#8b6ccc" stroke-width="0.6" stroke-opacity="0.7"/>
<line x1="566.4" y1="723.0" x2="548.4" y2="731.8" stroke="#8b6ccc" stroke-width="0.6" stroke-opacity="0.7"/>
<line x1="566.4" y1="723.0" x2="556.5" y2="739.6" stroke="#8b6ccc" stroke-width="0.6" stroke-opacity="0.7"/>
<line x1="548.4" y1="731.8" x2="556.5" y2="739.6" stroke="#8b6ccc" stroke-width="0.6" stroke-opacity="0.7"/>
<line x1="551.0" y1="705.0" x2="566.4" y2="723.0" stroke="#6a3db0" stroke-width="0.8" stroke-opacity="0.7"/>
<line x1="542.3" y1="713.1" x2="556.7" y2="721.9" stroke="#6a3db0" stroke-width="0.8" stroke-opacity="0.7"/>
<line x1="564.8" y1="708.8" x2="544.0" y2="723.0" stroke="#6a3db0" stroke-width="0.8" stroke-opacity="0.7"/>
<line x1="573.8" y1="718.2" x2="548.4" y2="731.8" stroke="#6a3db0" stroke-width="0.8" stroke-opacity="0.7"/>
<line x1="535.0" y1="721.9" x2="566.4" y2="723.0" stroke="#6a3db0" stroke-width="0.8" stroke-opacity="0.7"/>
<line x1="577.2" y1="739.5" x2="568.0" y2="743.9" stroke="#8b6ccc" stroke-width="0.6" stroke-opacity="0.7"/>
<line x1="577.2" y1="739.5" x2="573.6" y2="760.4" stroke="#8b6ccc" stroke-width="0.6" stroke-opacity="0.7"/>
<line x1="577.2" y1="739.5" x2="592.8" y2="758.9" stroke="#8b6ccc" stroke-width="0.6" stroke-opacity="0.7"/>
<line x1="568.0" y1="743.9" x2="573.6" y2="760.4" stroke="#8b6ccc" stroke-width="0.6" stroke-opacity="0.7"/>
<line x1="573.6" y1="760.4" x2="592.8" y2="758.9" stroke="#8b6ccc" stroke-width="0.6" stroke-opacity="0.7"/>
<line x1="573.6" y1="760.4" x2="571.8" y2="772.0" stroke="#8b6ccc" stroke-width="0.6" stroke-opacity="0.7"/>
<line x1="592.8" y1="758.9" x2="571.8" y2="772.0" stroke="#8b6ccc" stroke-width="0.6" stroke-opacity="0.7"/>
<line x1="577.2" y1="739.5" x2="573.6" y2="760.4" stroke="#6a3db0" stroke-width="0.9" stroke-opacity="0.85"/>
<line x1="573.6" y1="760.4" x2="571.8" y2="772.0" stroke="#6a3db0" stroke-width="0.9" stroke-opacity="0.85"/>
<line x1="564.8" y1="708.8" x2="577.2" y2="739.5" stroke="#8b6ccc" stroke-width="0.45" stroke-opacity="0.45"/>
<line x1="564.8" y1="708.8" x2="568.0" y2="743.9" stroke="#8b6ccc" stroke-width="0.45" stroke-opacity="0.45"/>
<line x1="566.4" y1="723.0" x2="568.0" y2="743.9" stroke="#8b6ccc" stroke-width="0.45" stroke-opacity="0.45"/>
<line x1="548.4" y1="731.8" x2="577.2" y2="739.5" stroke="#8b6ccc" stroke-width="0.45" stroke-opacity="0.45"/>
<line x1="556.5" y1="739.6" x2="577.2" y2="739.5" stroke="#8b6ccc" stroke-width="0.45" stroke-opacity="0.45"/>
<line x1="549.5" y1="765.8" x2="552.1" y2="776.4" stroke="#8b6ccc" stroke-width="0.7" stroke-opacity="0.75"/>
<line x1="549.5" y1="765.8" x2="562.6" y2="785.8" stroke="#8b6ccc" stroke-width="0.7" stroke-opacity="0.75"/>
<line x1="549.5" y1="765.8" x2="545.1" y2="789.9" stroke="#8b6ccc" stroke-width="0.7" stroke-opacity="0.75"/>
<line x1="552.1" y1="776.4" x2="562.6" y2="785.8" stroke="#8b6ccc" stroke-width="0.7" stroke-opacity="0.75"/>
<line x1="552.1" y1="776.4" x2="545.1" y2="789.9" stroke="#8b6ccc" stroke-width="0.7" stroke-opacity="0.75"/>
<line x1="562.6" y1="785.8" x2="545.1" y2="789.9" stroke="#8b6ccc" stroke-width="0.7" stroke-opacity="0.75"/>
<line x1="549.5" y1="765.8" x2="577.2" y2="739.5" stroke="#8b6ccc" stroke-width="0.45" stroke-opacity="0.45"/>
<line x1="549.5" y1="765.8" x2="571.8" y2="772.0" stroke="#8b6ccc" stroke-width="0.45" stroke-opacity="0.45"/>
<line x1="562.6" y1="785.8" x2="571.8" y2="772.0" stroke="#8b6ccc" stroke-width="0.45" stroke-opacity="0.45"/>
<line x1="549.5" y1="765.8" x2="527.4" y2="778.8" stroke="#8b6ccc" stroke-width="0.45" stroke-opacity="0.45"/>
<line x1="549.5" y1="765.8" x2="518.2" y2="789.4" stroke="#8b6ccc" stroke-width="0.45" stroke-opacity="0.45"/>
<line x1="552.1" y1="776.4" x2="527.4" y2="778.8" stroke="#8b6ccc" stroke-width="0.45" stroke-opacity="0.45"/>
<line x1="562.6" y1="785.8" x2="527.4" y2="778.8" stroke="#8b6ccc" stroke-width="0.45" stroke-opacity="0.45"/>
<line x1="562.6" y1="785.8" x2="532.4" y2="806.9" stroke="#8b6ccc" stroke-width="0.45" stroke-opacity="0.45"/>
<line x1="483.6" y1="749.9" x2="497.4" y2="744.7" stroke="#8b6ccc" stroke-width="0.6" stroke-opacity="0.7"/>
<line x1="483.6" y1="749.9" x2="494.1" y2="753.2" stroke="#8b6ccc" stroke-width="0.6" stroke-opacity="0.7"/>
<line x1="483.6" y1="749.9" x2="482.0" y2="761.3" stroke="#8b6ccc" stroke-width="0.6" stroke-opacity="0.7"/>
<line x1="483.6" y1="749.9" x2="496.3" y2="762.4" stroke="#8b6ccc" stroke-width="0.6" stroke-opacity="0.7"/>
<line x1="483.6" y1="749.9" x2="489.0" y2="770.5" stroke="#8b6ccc" stroke-width="0.6" stroke-opacity="0.7"/>
<line x1="497.4" y1="744.7" x2="508.8" y2="745.6" stroke="#8b6ccc" stroke-width="0.6" stroke-opacity="0.7"/>
<line x1="497.4" y1="744.7" x2="515.6" y2="753.9" stroke="#8b6ccc" stroke-width="0.6" stroke-opacity="0.7"/>
<line x1="497.4" y1="744.7" x2="496.3" y2="762.4" stroke="#8b6ccc" stroke-width="0.6" stroke-opacity="0.7"/>
<line x1="508.8" y1="745.6" x2="494.1" y2="753.2" stroke="#8b6ccc" stroke-width="0.6" stroke-opacity="0.7"/>
<line x1="508.8" y1="745.6" x2="515.6" y2="753.9" stroke="#8b6ccc" stroke-width="0.6" stroke-opacity="0.7"/>
<line x1="508.8" y1="745.6" x2="496.3" y2="762.4" stroke="#8b6ccc" stroke-width="0.6" stroke-opacity="0.7"/>
<line x1="494.1" y1="753.2" x2="515.6" y2="753.9" stroke="#8b6ccc" stroke-width="0.6" stroke-opacity="0.7"/>
<line x1="494.1" y1="753.2" x2="502.0" y2="774.0" stroke="#8b6ccc" stroke-width="0.6" stroke-opacity="0.7"/>
<line x1="515.6" y1="753.9" x2="502.0" y2="774.0" stroke="#8b6ccc" stroke-width="0.6" stroke-opacity="0.7"/>
<line x1="482.0" y1="761.3" x2="496.3" y2="762.4" stroke="#8b6ccc" stroke-width="0.6" stroke-opacity="0.7"/>
<line x1="482.0" y1="761.3" x2="489.0" y2="770.5" stroke="#8b6ccc" stroke-width="0.6" stroke-opacity="0.7"/>
<line x1="482.0" y1="761.3" x2="502.0" y2="774.0" stroke="#8b6ccc" stroke-width="0.6" stroke-opacity="0.7"/>
<line x1="482.0" y1="761.3" x2="492.6" y2="776.7" stroke="#8b6ccc" stroke-width="0.6" stroke-opacity="0.7"/>
<line x1="496.3" y1="762.4" x2="489.0" y2="770.5" stroke="#8b6ccc" stroke-width="0.6" stroke-opacity="0.7"/>
<line x1="496.3" y1="762.4" x2="502.0" y2="774.0" stroke="#8b6ccc" stroke-width="0.6" stroke-opacity="0.7"/>
<line x1="496.3" y1="762.4" x2="492.6" y2="776.7" stroke="#8b6ccc" stroke-width="0.6" stroke-opacity="0.7"/>
<line x1="489.0" y1="770.5" x2="502.0" y2="774.0" stroke="#8b6ccc" stroke-width="0.6" stroke-opacity="0.7"/>
<line x1="502.0" y1="774.0" x2="492.6" y2="776.7" stroke="#8b6ccc" stroke-width="0.6" stroke-opacity="0.7"/>
<line x1="496.3" y1="762.4" x2="483.6" y2="749.9" stroke="#6a3db0" stroke-width="1.0" stroke-opacity="0.8"/>
<line x1="496.3" y1="762.4" x2="497.4" y2="744.7" stroke="#6a3db0" stroke-width="1.0" stroke-opacity="0.8"/>
<line x1="496.3" y1="762.4" x2="508.8" y2="745.6" stroke="#6a3db0" stroke-width="1.0" stroke-opacity="0.8"/>
<line x1="496.3" y1="762.4" x2="494.1" y2="753.2" stroke="#6a3db0" stroke-width="1.0" stroke-opacity="0.8"/>
<line x1="496.3" y1="762.4" x2="515.6" y2="753.9" stroke="#6a3db0" stroke-width="1.0" stroke-opacity="0.8"/>
<line x1="496.3" y1="762.4" x2="482.0" y2="761.3" stroke="#6a3db0" stroke-width="1.0" stroke-opacity="0.8"/>
<line x1="496.3" y1="762.4" x2="496.3" y2="762.4" stroke="#6a3db0" stroke-width="1.0" stroke-opacity="0.8"/>
<line x1="496.3" y1="762.4" x2="489.0" y2="770.5" stroke="#6a3db0" stroke-width="1.0" stroke-opacity="0.8"/>
<line x1="496.3" y1="762.4" x2="502.0" y2="774.0" stroke="#6a3db0" stroke-width="1.0" stroke-opacity="0.8"/>
<line x1="496.3" y1="762.4" x2="492.6" y2="776.7" stroke="#6a3db0" stroke-width="1.0" stroke-opacity="0.8"/>
<line x1="518.2" y1="774.0" x2="527.4" y2="778.8" stroke="#8b6ccc" stroke-width="0.6" stroke-opacity="0.7"/>
<line x1="518.2" y1="774.0" x2="518.2" y2="789.4" stroke="#8b6ccc" stroke-width="0.6" stroke-opacity="0.7"/>
<line x1="518.2" y1="774.0" x2="535.0" y2="789.4" stroke="#8b6ccc" stroke-width="0.6" stroke-opacity="0.7"/>
<line x1="518.2" y1="774.0" x2="510.1" y2="796.4" stroke="#8b6ccc" stroke-width="0.6" stroke-opacity="0.7"/>
<line x1="527.4" y1="778.8" x2="535.0" y2="789.4" stroke="#8b6ccc" stroke-width="0.6" stroke-opacity="0.7"/>
<line x1="527.4" y1="778.8" x2="510.1" y2="796.4" stroke="#8b6ccc" stroke-width="0.6" stroke-opacity="0.7"/>
<line x1="518.2" y1="789.4" x2="535.0" y2="789.4" stroke="#8b6ccc" stroke-width="0.6" stroke-opacity="0.7"/>
<line x1="518.2" y1="789.4" x2="510.1" y2="796.4" stroke="#8b6ccc" stroke-width="0.6" stroke-opacity="0.7"/>
<line x1="518.2" y1="789.4" x2="516.0" y2="806.9" stroke="#8b6ccc" stroke-width="0.6" stroke-opacity="0.7"/>
<line x1="518.2" y1="789.4" x2="532.4" y2="806.9" stroke="#8b6ccc" stroke-width="0.6" stroke-opacity="0.7"/>
<line x1="535.0" y1="789.4" x2="532.4" y2="806.9" stroke="#8b6ccc" stroke-width="0.6" stroke-opacity="0.7"/>
<line x1="510.1" y1="796.4" x2="516.0" y2="806.9" stroke="#8b6ccc" stroke-width="0.6" stroke-opacity="0.7"/>
<line x1="516.0" y1="806.9" x2="532.4" y2="806.9" stroke="#8b6ccc" stroke-width="0.6" stroke-opacity="0.7"/>
<line x1="483.6" y1="749.9" x2="518.2" y2="774.0" stroke="#8b6ccc" stroke-width="0.45" stroke-opacity="0.5"/>
<line x1="508.8" y1="745.6" x2="527.4" y2="778.8" stroke="#8b6ccc" stroke-width="0.45" stroke-opacity="0.5"/>
<line x1="508.8" y1="745.6" x2="518.2" y2="789.4" stroke="#8b6ccc" stroke-width="0.45" stroke-opacity="0.5"/>
<line x1="494.1" y1="753.2" x2="518.2" y2="774.0" stroke="#8b6ccc" stroke-width="0.45" stroke-opacity="0.5"/>
<line x1="494.1" y1="753.2" x2="527.4" y2="778.8" stroke="#8b6ccc" stroke-width="0.45" stroke-opacity="0.5"/>
<line x1="494.1" y1="753.2" x2="518.2" y2="789.4" stroke="#8b6ccc" stroke-width="0.45" stroke-opacity="0.5"/>
<line x1="515.6" y1="753.9" x2="518.2" y2="774.0" stroke="#8b6ccc" stroke-width="0.45" stroke-opacity="0.5"/>
<line x1="515.6" y1="753.9" x2="527.4" y2="778.8" stroke="#8b6ccc" stroke-width="0.45" stroke-opacity="0.5"/>
<line x1="515.6" y1="753.9" x2="518.2" y2="789.4" stroke="#8b6ccc" stroke-width="0.45" stroke-opacity="0.5"/>
<line x1="515.6" y1="753.9" x2="535.0" y2="789.4" stroke="#8b6ccc" stroke-width="0.45" stroke-opacity="0.5"/>
<line x1="482.0" y1="761.3" x2="510.1" y2="796.4" stroke="#8b6ccc" stroke-width="0.45" stroke-opacity="0.5"/>
<line x1="496.3" y1="762.4" x2="518.2" y2="774.0" stroke="#8b6ccc" stroke-width="0.45" stroke-opacity="0.5"/>
<line x1="496.3" y1="762.4" x2="527.4" y2="778.8" stroke="#8b6ccc" stroke-width="0.45" stroke-opacity="0.5"/>
<line x1="496.3" y1="762.4" x2="518.2" y2="789.4" stroke="#8b6ccc" stroke-width="0.45" stroke-opacity="0.5"/>
<line x1="496.3" y1="762.4" x2="510.1" y2="796.4" stroke="#8b6ccc" stroke-width="0.45" stroke-opacity="0.5"/>
<line x1="489.0" y1="770.5" x2="518.2" y2="774.0" stroke="#8b6ccc" stroke-width="0.45" stroke-opacity="0.5"/>
<line x1="489.0" y1="770.5" x2="527.4" y2="778.8" stroke="#8b6ccc" stroke-width="0.45" stroke-opacity="0.5"/>
<line x1="489.0" y1="770.5" x2="510.1" y2="796.4" stroke="#8b6ccc" stroke-width="0.45" stroke-opacity="0.5"/>
<line x1="502.0" y1="774.0" x2="518.2" y2="774.0" stroke="#8b6ccc" stroke-width="0.45" stroke-opacity="0.5"/>
<line x1="502.0" y1="774.0" x2="535.0" y2="789.4" stroke="#8b6ccc" stroke-width="0.45" stroke-opacity="0.5"/>
<line x1="502.0" y1="774.0" x2="510.1" y2="796.4" stroke="#8b6ccc" stroke-width="0.45" stroke-opacity="0.5"/>
<line x1="502.0" y1="774.0" x2="516.0" y2="806.9" stroke="#8b6ccc" stroke-width="0.45" stroke-opacity="0.5"/>
<line x1="502.0" y1="774.0" x2="532.4" y2="806.9" stroke="#8b6ccc" stroke-width="0.45" stroke-opacity="0.5"/>
<line x1="492.6" y1="776.7" x2="518.2" y2="774.0" stroke="#8b6ccc" stroke-width="0.45" stroke-opacity="0.5"/>
<line x1="492.6" y1="776.7" x2="510.1" y2="796.4" stroke="#8b6ccc" stroke-width="0.45" stroke-opacity="0.5"/>
<line x1="492.6" y1="776.7" x2="516.0" y2="806.9" stroke="#8b6ccc" stroke-width="0.45" stroke-opacity="0.5"/>
<line x1="483.6" y1="749.9" x2="535.0" y2="721.9" stroke="#8b6ccc" stroke-width="0.45" stroke-opacity="0.45"/>
<line x1="497.4" y1="744.7" x2="564.8" y2="708.8" stroke="#8b6ccc" stroke-width="0.45" stroke-opacity="0.45"/>
<line x1="508.8" y1="745.6" x2="564.8" y2="708.8" stroke="#8b6ccc" stroke-width="0.45" stroke-opacity="0.45"/>
<line x1="494.1" y1="753.2" x2="564.8" y2="708.8" stroke="#8b6ccc" stroke-width="0.45" stroke-opacity="0.45"/>
<line x1="494.1" y1="753.2" x2="542.3" y2="713.1" stroke="#8b6ccc" stroke-width="0.45" stroke-opacity="0.45"/>
<line x1="494.1" y1="753.2" x2="548.4" y2="731.8" stroke="#8b6ccc" stroke-width="0.45" stroke-opacity="0.45"/>
<line x1="482.0" y1="761.3" x2="551.0" y2="705.0" stroke="#8b6ccc" stroke-width="0.45" stroke-opacity="0.45"/>
<line x1="482.0" y1="761.3" x2="556.5" y2="739.6" stroke="#8b6ccc" stroke-width="0.45" stroke-opacity="0.45"/>
<line x1="502.0" y1="774.0" x2="566.4" y2="723.0" stroke="#8b6ccc" stroke-width="0.45" stroke-opacity="0.45"/>
<line x1="502.0" y1="774.0" x2="548.4" y2="731.8" stroke="#8b6ccc" stroke-width="0.45" stroke-opacity="0.45"/>
<line x1="518.2" y1="774.0" x2="551.0" y2="705.0" stroke="#8b6ccc" stroke-width="0.45" stroke-opacity="0.45"/>
<line x1="518.2" y1="774.0" x2="556.7" y2="721.9" stroke="#8b6ccc" stroke-width="0.45" stroke-opacity="0.45"/>
<line x1="527.4" y1="778.8" x2="566.4" y2="723.0" stroke="#8b6ccc" stroke-width="0.45" stroke-opacity="0.45"/>
<line x1="518.2" y1="789.4" x2="535.0" y2="721.9" stroke="#8b6ccc" stroke-width="0.45" stroke-opacity="0.45"/>
<line x1="518.2" y1="789.4" x2="548.4" y2="731.8" stroke="#8b6ccc" stroke-width="0.45" stroke-opacity="0.45"/>
<line x1="518.2" y1="789.4" x2="556.5" y2="739.6" stroke="#8b6ccc" stroke-width="0.45" stroke-opacity="0.45"/>
<line x1="535.0" y1="789.4" x2="551.0" y2="705.0" stroke="#8b6ccc" stroke-width="0.45" stroke-opacity="0.45"/>
<line x1="510.1" y1="796.4" x2="556.7" y2="721.9" stroke="#8b6ccc" stroke-width="0.45" stroke-opacity="0.45"/>
<line x1="516.0" y1="806.9" x2="535.0" y2="721.9" stroke="#8b6ccc" stroke-width="0.45" stroke-opacity="0.45"/>
<line x1="417.9" y1="828.3" x2="418.2" y2="842.0" stroke="#9a7fd0" stroke-width="0.9" stroke-opacity="0.9"/>
<circle cx="421.2" cy="251.6" r="2.9" fill="#e0262a" stroke="#5a7ea4" stroke-width="0.8" stroke-opacity="0.85"/>
<circle cx="450.9" cy="254.0" r="2.9" fill="#e0262a" stroke="#5a7ea4" stroke-width="0.8" stroke-opacity="0.85"/>
<circle cx="454.9" cy="259.9" r="2.9" fill="#e0262a" stroke="#5a7ea4" stroke-width="0.8" stroke-opacity="0.85"/>
<circle cx="435.6" cy="267.5" r="2.9" fill="#e0262a" stroke="#5a7ea4" stroke-width="0.8" stroke-opacity="0.85"/>
<circle cx="450.0" cy="267.6" r="2.9" fill="#e0262a" stroke="#5a7ea4" stroke-width="0.8" stroke-opacity="0.85"/>
<circle cx="465.2" cy="268.5" r="2.9" fill="#e0262a" stroke="#5a7ea4" stroke-width="0.8" stroke-opacity="0.85"/>
<circle cx="457.5" cy="282.5" r="2.9" fill="#56b34a" stroke="#5a7ea4" stroke-width="0.8" stroke-opacity="0.85"/>
<circle cx="451.9" cy="293.7" r="2.9" fill="#56b34a" stroke="#5a7ea4" stroke-width="0.8" stroke-opacity="0.85"/>
<circle cx="470.1" cy="295.8" r="2.9" fill="#56b34a" stroke="#5a7ea4" stroke-width="0.8" stroke-opacity="0.85"/>
<circle cx="485.5" cy="291.4" r="2.9" fill="#56b34a" stroke="#5a7ea4" stroke-width="0.8" stroke-opacity="0.85"/>
<circle cx="454.2" cy="304.9" r="2.9" fill="#56b34a" stroke="#5a7ea4" stroke-width="0.8" stroke-opacity="0.85"/>
<circle cx="464.9" cy="303.5" r="2.9" fill="#56b34a" stroke="#5a7ea4" stroke-width="0.8" stroke-opacity="0.85"/>
<circle cx="479.9" cy="305.6" r="2.9" fill="#56b34a" stroke="#5a7ea4" stroke-width="0.8" stroke-opacity="0.85"/>
<circle cx="464.9" cy="315.7" r="2.9" fill="#56b34a" stroke="#5a7ea4" stroke-width="0.8" stroke-opacity="0.85"/>
<circle cx="489.7" cy="313.6" r="2.9" fill="#56b34a" stroke="#5a7ea4" stroke-width="0.8" stroke-opacity="0.85"/>
<circle cx="481.3" cy="319.4" r="2.9" fill="#56b34a" stroke="#5a7ea4" stroke-width="0.8" stroke-opacity="0.85"/>
<circle cx="516.3" cy="263.4" r="2.9" fill="#3f7fc0" stroke="#5a7ea4" stroke-width="0.8" stroke-opacity="0.85"/>
<circle cx="532.7" cy="257.1" r="2.9" fill="#3f7fc0" stroke="#5a7ea4" stroke-width="0.8" stroke-opacity="0.85"/>
<circle cx="542.5" cy="271.5" r="2.9" fill="#3f7fc0" stroke="#5a7ea4" stroke-width="0.8" stroke-opacity="0.85"/>
<circle cx="510.7" cy="278.1" r="2.9" fill="#3f7fc0" stroke="#5a7ea4" stroke-width="0.8" stroke-opacity="0.85"/>
<circle cx="523.3" cy="275.7" r="2.9" fill="#3f7fc0" stroke="#5a7ea4" stroke-width="0.8" stroke-opacity="0.85"/>
<circle cx="533.8" cy="287.7" r="2.1" fill="#3f7fc0" stroke="#5a7ea4" stroke-width="0.8" stroke-opacity="0.85"/>
<circle cx="513.3" cy="296.3" r="1.5" fill="#3f7fc0" stroke="#5a7ea4" stroke-width="0.8" stroke-opacity="0.85"/>
<circle cx="445.3" cy="347.1" r="1.7" fill="#8e4bb8" stroke="#5a7ea4" stroke-width="0.8" stroke-opacity="0.85"/>
<circle cx="469.2" cy="350.6" r="2.2" fill="#8e4bb8" stroke="#5a7ea4" stroke-width="0.8" stroke-opacity="0.85"/>
<circle cx="454.3" cy="369.3" r="3.1" fill="#8e4bb8" stroke="#5a7ea4" stroke-width="0.8" stroke-opacity="0.85"/>
<circle cx="478.3" cy="373.1" r="3.1" fill="#8e4bb8" stroke="#5a7ea4" stroke-width="0.8" stroke-opacity="0.85"/>
<circle cx="522.6" cy="342.1" r="2.9" fill="#9b552b" stroke="#5a7ea4" stroke-width="0.8" stroke-opacity="0.85"/>
<circle cx="540.5" cy="335.7" r="2.9" fill="#9b552b" stroke="#5a7ea4" stroke-width="0.8" stroke-opacity="0.85"/>
<circle cx="548.6" cy="352.9" r="2.9" fill="#9b552b" stroke="#5a7ea4" stroke-width="0.8" stroke-opacity="0.85"/>
<circle cx="521.5" cy="359.1" r="2.9" fill="#9b552b" stroke="#5a7ea4" stroke-width="0.8" stroke-opacity="0.85"/>
<circle cx="537.5" cy="365.2" r="2.9" fill="#9b552b" stroke="#5a7ea4" stroke-width="0.8" stroke-opacity="0.85"/>
<circle cx="453.5" cy="400.2" r="2.2" fill="#ee7f27" stroke="#5a7ea4" stroke-width="0.8" stroke-opacity="0.85"/>
<circle cx="465.8" cy="397.8" r="2.2" fill="#ee7f27" stroke="#5a7ea4" stroke-width="0.8" stroke-opacity="0.85"/>
<circle cx="479.9" cy="403.9" r="3.0" fill="#ee7f27" stroke="#5a7ea4" stroke-width="0.8" stroke-opacity="0.85"/>
<circle cx="448.8" cy="408.4" r="0.8" fill="#ee7f27"/>
<circle cx="451.7" cy="415.5" r="3.0" fill="#ee7f27" stroke="#5a7ea4" stroke-width="0.8" stroke-opacity="0.85"/>
<circle cx="465.8" cy="412.5" r="3.0" fill="#ee7f27" stroke="#5a7ea4" stroke-width="0.8" stroke-opacity="0.85"/>
<circle cx="481.7" cy="418.6" r="3.0" fill="#ee7f27" stroke="#5a7ea4" stroke-width="0.8" stroke-opacity="0.85"/>
<circle cx="457.4" cy="427.8" r="2.6" fill="#ee7f27" stroke="#5a7ea4" stroke-width="0.8" stroke-opacity="0.85"/>
<circle cx="469.2" cy="426.4" r="3.0" fill="#ee7f27" stroke="#5a7ea4" stroke-width="0.8" stroke-opacity="0.85"/>
<circle cx="525.4" cy="397.2" r="3.0" fill="#e681d4" stroke="#5a7ea4" stroke-width="0.8" stroke-opacity="0.85"/>
<circle cx="549.4" cy="399.8" r="3.0" fill="#e681d4" stroke="#5a7ea4" stroke-width="0.8" stroke-opacity="0.85"/>
<circle cx="535.3" cy="411.5" r="3.0" fill="#e681d4" stroke="#5a7ea4" stroke-width="0.8" stroke-opacity="0.85"/>
<circle cx="477.0" cy="445.1" r="2.9" fill="#e6f045" stroke="#5a7ea4" stroke-width="0.8" stroke-opacity="0.85"/>
<circle cx="456.6" cy="455.3" r="2.9" fill="#e6f045" stroke="#5a7ea4" stroke-width="0.8" stroke-opacity="0.85"/>
<circle cx="479.9" cy="454.9" r="2.9" fill="#e6f045" stroke="#5a7ea4" stroke-width="0.8" stroke-opacity="0.85"/>
<circle cx="468.4" cy="459.8" r="2.9" fill="#e6f045" stroke="#5a7ea4" stroke-width="0.8" stroke-opacity="0.85"/>
<circle cx="488.6" cy="467.6" r="2.9" fill="#e6f045" stroke="#5a7ea4" stroke-width="0.8" stroke-opacity="0.85"/>
<circle cx="463.3" cy="474.1" r="2.9" fill="#e6f045" stroke="#5a7ea4" stroke-width="0.8" stroke-opacity="0.85"/>
<circle cx="474.7" cy="478.0" r="2.9" fill="#e6f045" stroke="#5a7ea4" stroke-width="0.8" stroke-opacity="0.85"/>
<circle cx="446.7" cy="480.5" r="0.8" fill="#e6f045"/>
<circle cx="530.0" cy="453.5" r="2.9" fill="#8f8f8f" stroke="#5a7ea4" stroke-width="0.8" stroke-opacity="0.85"/>
<circle cx="542.4" cy="452.9" r="2.9" fill="#8f8f8f" stroke="#5a7ea4" stroke-width="0.8" stroke-opacity="0.85"/>
<circle cx="551.8" cy="459.8" r="2.9" fill="#8f8f8f" stroke="#5a7ea4" stroke-width="0.8" stroke-opacity="0.85"/>
<circle cx="521.0" cy="465.0" r="2.9" fill="#8f8f8f" stroke="#5a7ea4" stroke-width="0.8" stroke-opacity="0.85"/>
<circle cx="533.2" cy="465.5" r="2.9" fill="#8f8f8f" stroke="#5a7ea4" stroke-width="0.8" stroke-opacity="0.85"/>
<circle cx="542.8" cy="471.3" r="2.9" fill="#8f8f8f" stroke="#5a7ea4" stroke-width="0.8" stroke-opacity="0.85"/>
<circle cx="554.9" cy="472.1" r="2.9" fill="#8f8f8f" stroke="#5a7ea4" stroke-width="0.8" stroke-opacity="0.85"/>
<circle cx="523.8" cy="477.4" r="2.9" fill="#8f8f8f" stroke="#5a7ea4" stroke-width="0.8" stroke-opacity="0.85"/>
<circle cx="533.2" cy="484.0" r="2.9" fill="#8f8f8f" stroke="#5a7ea4" stroke-width="0.8" stroke-opacity="0.85"/>
<circle cx="546.1" cy="483.3" r="2.9" fill="#8f8f8f" stroke="#5a7ea4" stroke-width="0.8" stroke-opacity="0.85"/>
<circle cx="537.7" cy="468.6" r="1.0" fill="#5b2d9c"/>
<circle cx="501.4" cy="498.9" r="3.1" fill="#82d7c8" stroke="#5a7ea4" stroke-width="0.8" stroke-opacity="0.85"/>
<circle cx="487.6" cy="508.1" r="3.1" fill="#82d7c8" stroke="#5a7ea4" stroke-width="0.8" stroke-opacity="0.85"/>
<circle cx="517.6" cy="509.3" r="3.1" fill="#82d7c8" stroke="#5a7ea4" stroke-width="0.8" stroke-opacity="0.85"/>
<circle cx="502.4" cy="515.0" r="3.1" fill="#82d7c8" stroke="#5a7ea4" stroke-width="0.8" stroke-opacity="0.85"/>
<circle cx="488.8" cy="524.5" r="3.1" fill="#82d7c8" stroke="#5a7ea4" stroke-width="0.8" stroke-opacity="0.85"/>
<circle cx="516.6" cy="522.1" r="3.1" fill="#82d7c8" stroke="#5a7ea4" stroke-width="0.8" stroke-opacity="0.85"/>
<circle cx="503.4" cy="531.4" r="3.1" fill="#82d7c8" stroke="#5a7ea4" stroke-width="0.8" stroke-opacity="0.85"/>
<circle cx="534.5" cy="634.8" r="2.9" fill="#e0262a" stroke="#5a7ea4" stroke-width="0.8" stroke-opacity="0.85"/>
<circle cx="545.0" cy="630.2" r="2.9" fill="#e0262a" stroke="#5a7ea4" stroke-width="0.8" stroke-opacity="0.85"/>
<circle cx="555.1" cy="629.6" r="2.9" fill="#e0262a" stroke="#5a7ea4" stroke-width="0.8" stroke-opacity="0.85"/>
<circle cx="557.1" cy="638.8" r="2.9" fill="#e0262a" stroke="#5a7ea4" stroke-width="0.8" stroke-opacity="0.85"/>
<circle cx="527.9" cy="645.1" r="2.9" fill="#e0262a" stroke="#5a7ea4" stroke-width="0.8" stroke-opacity="0.85"/>
<circle cx="543.7" cy="643.4" r="2.9" fill="#e0262a" stroke="#5a7ea4" stroke-width="0.8" stroke-opacity="0.85"/>
<circle cx="552.6" cy="649.4" r="2.9" fill="#e0262a" stroke="#5a7ea4" stroke-width="0.8" stroke-opacity="0.85"/>
<circle cx="535.5" cy="654.5" r="2.9" fill="#e0262a" stroke="#5a7ea4" stroke-width="0.8" stroke-opacity="0.85"/>
<circle cx="547.6" cy="659.8" r="2.9" fill="#e0262a" stroke="#5a7ea4" stroke-width="0.8" stroke-opacity="0.85"/>
<circle cx="558.1" cy="658.2" r="2.9" fill="#e0262a" stroke="#5a7ea4" stroke-width="0.8" stroke-opacity="0.85"/>
<circle cx="573.2" cy="615.5" r="2.9" fill="#e681d4" stroke="#5a7ea4" stroke-width="0.8" stroke-opacity="0.85"/>
<circle cx="583.7" cy="618.8" r="2.9" fill="#e681d4" stroke="#5a7ea4" stroke-width="0.8" stroke-opacity="0.85"/>
<circle cx="563.6" cy="621.4" r="2.2" fill="#e681d4" stroke="#5a7ea4" stroke-width="0.8" stroke-opacity="0.85"/>
<circle cx="568.6" cy="633.9" r="2.9" fill="#e681d4" stroke="#5a7ea4" stroke-width="0.8" stroke-opacity="0.85"/>
<circle cx="585.7" cy="632.2" r="2.9" fill="#e681d4" stroke="#5a7ea4" stroke-width="0.8" stroke-opacity="0.85"/>
<circle cx="579.5" cy="641.4" r="2.9" fill="#e681d4" stroke="#5a7ea4" stroke-width="0.8" stroke-opacity="0.85"/>
<circle cx="568.4" cy="647.6" r="2.9" fill="#e681d4" stroke="#5a7ea4" stroke-width="0.8" stroke-opacity="0.85"/>
<circle cx="591.6" cy="647.6" r="2.9" fill="#e681d4" stroke="#5a7ea4" stroke-width="0.8" stroke-opacity="0.85"/>
<circle cx="583.1" cy="653.9" r="2.9" fill="#e681d4" stroke="#5a7ea4" stroke-width="0.8" stroke-opacity="0.85"/>
<circle cx="577.8" cy="659.8" r="2.9" fill="#e681d4" stroke="#5a7ea4" stroke-width="0.8" stroke-opacity="0.85"/>
<circle cx="559.3" cy="675.0" r="2.9" fill="#9b552b" stroke="#5a7ea4" stroke-width="0.8" stroke-opacity="0.85"/>
<circle cx="574.7" cy="673.1" r="2.9" fill="#9b552b" stroke="#5a7ea4" stroke-width="0.8" stroke-opacity="0.85"/>
<circle cx="569.9" cy="688.5" r="2.9" fill="#9b552b" stroke="#5a7ea4" stroke-width="0.8" stroke-opacity="0.85"/>
<circle cx="561.2" cy="693.1" r="2.9" fill="#9b552b" stroke="#5a7ea4" stroke-width="0.8" stroke-opacity="0.85"/>
<circle cx="551.0" cy="705.0" r="2.9" fill="#e6f045" stroke="#5a7ea4" stroke-width="0.8" stroke-opacity="0.85"/>
<circle cx="564.8" cy="708.8" r="2.9" fill="#e6f045" stroke="#5a7ea4" stroke-width="0.8" stroke-opacity="0.85"/>
<circle cx="542.3" cy="713.1" r="2.9" fill="#e6f045" stroke="#5a7ea4" stroke-width="0.8" stroke-opacity="0.85"/>
<circle cx="573.8" cy="718.2" r="2.9" fill="#e6f045" stroke="#5a7ea4" stroke-width="0.8" stroke-opacity="0.85"/>
<circle cx="535.0" cy="721.9" r="2.9" fill="#e6f045" stroke="#5a7ea4" stroke-width="0.8" stroke-opacity="0.85"/>
<circle cx="544.0" cy="723.0" r="2.9" fill="#e6f045" stroke="#5a7ea4" stroke-width="0.8" stroke-opacity="0.85"/>
<circle cx="556.7" cy="721.9" r="2.9" fill="#e6f045" stroke="#5a7ea4" stroke-width="0.8" stroke-opacity="0.85"/>
<circle cx="566.4" cy="723.0" r="2.9" fill="#e6f045" stroke="#5a7ea4" stroke-width="0.8" stroke-opacity="0.85"/>
<circle cx="548.4" cy="731.8" r="2.9" fill="#e6f045" stroke="#5a7ea4" stroke-width="0.8" stroke-opacity="0.85"/>
<circle cx="556.5" cy="739.6" r="2.9" fill="#e6f045" stroke="#5a7ea4" stroke-width="0.8" stroke-opacity="0.85"/>
<circle cx="577.2" cy="739.5" r="2.9" fill="#3f7fc0" stroke="#5a7ea4" stroke-width="0.8" stroke-opacity="0.85"/>
<circle cx="568.0" cy="743.9" r="2.9" fill="#3f7fc0" stroke="#5a7ea4" stroke-width="0.8" stroke-opacity="0.85"/>
<circle cx="573.6" cy="760.4" r="2.9" fill="#3f7fc0" stroke="#5a7ea4" stroke-width="0.8" stroke-opacity="0.85"/>
<circle cx="592.8" cy="758.9" r="2.9" fill="#3f7fc0" stroke="#5a7ea4" stroke-width="0.8" stroke-opacity="0.85"/>
<circle cx="571.8" cy="772.0" r="2.9" fill="#3f7fc0" stroke="#5a7ea4" stroke-width="0.8" stroke-opacity="0.85"/>
<circle cx="549.5" cy="765.8" r="2.9" fill="#56b34a" stroke="#5a7ea4" stroke-width="0.8" stroke-opacity="0.85"/>
<circle cx="552.1" cy="776.4" r="2.9" fill="#56b34a" stroke="#5a7ea4" stroke-width="0.8" stroke-opacity="0.85"/>
<circle cx="562.6" cy="785.8" r="2.9" fill="#56b34a" stroke="#5a7ea4" stroke-width="0.8" stroke-opacity="0.85"/>
<circle cx="545.1" cy="789.9" r="2.9" fill="#56b34a" stroke="#5a7ea4" stroke-width="0.8" stroke-opacity="0.85"/>
<circle cx="483.6" cy="749.9" r="2.9" fill="#8e4bb8" stroke="#5a7ea4" stroke-width="0.8" stroke-opacity="0.85"/>
<circle cx="497.4" cy="744.7" r="2.9" fill="#8e4bb8" stroke="#5a7ea4" stroke-width="0.8" stroke-opacity="0.85"/>
<circle cx="508.8" cy="745.6" r="2.9" fill="#8e4bb8" stroke="#5a7ea4" stroke-width="0.8" stroke-opacity="0.85"/>
<circle cx="494.1" cy="753.2" r="2.9" fill="#8e4bb8" stroke="#5a7ea4" stroke-width="0.8" stroke-opacity="0.85"/>
<circle cx="515.6" cy="753.9" r="2.9" fill="#8e4bb8" stroke="#5a7ea4" stroke-width="0.8" stroke-opacity="0.85"/>
<circle cx="482.0" cy="761.3" r="2.9" fill="#8e4bb8" stroke="#5a7ea4" stroke-width="0.8" stroke-opacity="0.85"/>
<circle cx="496.3" cy="762.4" r="2.9" fill="#8e4bb8" stroke="#5a7ea4" stroke-width="0.8" stroke-opacity="0.85"/>
<circle cx="489.0" cy="770.5" r="2.9" fill="#8e4bb8" stroke="#5a7ea4" stroke-width="0.8" stroke-opacity="0.85"/>
<circle cx="502.0" cy="774.0" r="2.9" fill="#8e4bb8" stroke="#5a7ea4" stroke-width="0.8" stroke-opacity="0.85"/>
<circle cx="492.6" cy="776.7" r="2.9" fill="#8e4bb8" stroke="#5a7ea4" stroke-width="0.8" stroke-opacity="0.85"/>
<circle cx="518.2" cy="774.0" r="2.9" fill="#ee7f27" stroke="#5a7ea4" stroke-width="0.8" stroke-opacity="0.85"/>
<circle cx="527.4" cy="778.8" r="2.9" fill="#ee7f27" stroke="#5a7ea4" stroke-width="0.8" stroke-opacity="0.85"/>
<circle cx="518.2" cy="789.4" r="2.9" fill="#ee7f27" stroke="#5a7ea4" stroke-width="0.8" stroke-opacity="0.85"/>
<circle cx="535.0" cy="789.4" r="2.9" fill="#ee7f27" stroke="#5a7ea4" stroke-width="0.8" stroke-opacity="0.85"/>
<circle cx="510.1" cy="796.4" r="2.9" fill="#ee7f27" stroke="#5a7ea4" stroke-width="0.8" stroke-opacity="0.85"/>
<circle cx="516.0" cy="806.9" r="2.9" fill="#ee7f27" stroke="#5a7ea4" stroke-width="0.8" stroke-opacity="0.85"/>
<circle cx="532.4" cy="806.9" r="2.9" fill="#ee7f27" stroke="#5a7ea4" stroke-width="0.8" stroke-opacity="0.85"/>
<circle cx="417.9" cy="828.3" r="3.1" fill="#82d7c8" stroke="#5a7ea4" stroke-width="0.8" stroke-opacity="0.85"/>
<circle cx="418.2" cy="842.0" r="3.1" fill="#82d7c8" stroke="#5a7ea4" stroke-width="0.8" stroke-opacity="0.85"/>
<circle cx="540.4" cy="836.5" r="3.0" fill="#8f8f8f" stroke="#5a7ea4" stroke-width="0.8" stroke-opacity="0.85"/>
<text x="405.50" y="267.20" font-size="10.9" text-anchor="middle">dendrite</text>
<text x="409.00" y="299.70" font-size="10.9" text-anchor="middle">regulation of</text>
<text x="409.00" y="310.40" font-size="10.9" text-anchor="middle">trans-synaptic</text>
<text x="408.50" y="320.70" font-size="10.9" text-anchor="middle">signaling</text>
<text x="521.90" y="301.80" font-size="10.9" text-anchor="start">brain development</text>
<text x="424.90" y="358.90" font-size="10.9" text-anchor="middle">kinase</text>
<text x="425.20" y="369.60" font-size="10.9" text-anchor="middle">binding</text>
<text x="586.00" y="358.40" font-size="10.9" text-anchor="middle">tube</text>
<text x="586.00" y="366.30" font-size="10.9" text-anchor="middle">morphogenesis</text>
<text x="402.10" y="413.80" font-size="10.9" text-anchor="middle">phosphoric ester</text>
<text x="401.50" y="424.40" font-size="10.9" text-anchor="middle">hydrolase activity</text>
<text x="499.40" y="425.70" font-size="10.9" text-anchor="start">DNA-binding transcription activator</text>
<text x="499.40" y="436.50" font-size="10.9" text-anchor="start">activity, RNA polymerase II-specific</text>
<text x="423.90" y="463.50" font-size="10.9" text-anchor="middle">synapse</text>
<text x="424.40" y="473.30" font-size="10.9" text-anchor="middle">assembly</text>
<text x="554.90" y="489.70" font-size="10.9" text-anchor="start">proteolysis involved in</text>
<text x="541.20" y="500.00" font-size="10.9" text-anchor="start">protein catabolic process</text>
<text x="403.30" y="518.60" font-size="10.9" text-anchor="start">Golgi membrane</text>
<text x="580.80" y="597.10" font-size="10.9" text-anchor="middle">regulation of plasma membrane</text>
<text x="582.10" y="608.30" font-size="10.9" text-anchor="middle">bounded cell projection organization</text>
<text x="482.00" y="638.20" font-size="10.9" text-anchor="middle">neuron projection</text>
<text x="482.20" y="648.40" font-size="10.9" text-anchor="middle">development</text>
<text x="431.10" y="687.00" font-size="10.9" text-anchor="start">cell junction organization</text>
<text x="506.20" y="709.00" font-size="10.9" text-anchor="middle">glutamatergic</text>
<text x="505.70" y="719.60" font-size="10.9" text-anchor="middle">synapse</text>
<text x="429.70" y="749.00" font-size="10.9" text-anchor="middle">vesicle-mediated</text>
<text x="429.40" y="759.50" font-size="10.9" text-anchor="middle">transport in synapse</text>
<text x="588.20" y="747.50" font-size="10.9" text-anchor="start">dendrite</text>
<text x="558.20" y="797.90" font-size="10.9" text-anchor="start">axon</text>
<text x="449.10" y="803.30" font-size="10.9" text-anchor="start">presynapse</text>
<text x="470.30" y="832.10" font-size="10.9" text-anchor="middle">cell adhesion</text>
<text x="469.80" y="842.50" font-size="10.9" text-anchor="middle">molecule binding</text>
<text x="550.90" y="839.90" font-size="10.9" text-anchor="start">calcium ion binding</text>
<g clip-path="url(#c1)">
<path d="M308.2,57 C307.8,47 312,38 320,32.5 C328,27.5 338,25.6 348,25.6 C357,25.8 364.5,28.5 370.5,34.5 C375.5,40 377.6,48 376.9,55.5 C376.3,60 372.5,62 366,63.2 C359,64 352,64.6 347,67 C343,69.5 339.5,72.4 334.5,72.6 C330.8,72.6 328.8,70 329.0,66 C323,65.2 316,64.6 312,62.6 C309.6,61.3 308.3,59.5 308.2,57 Z" transform="translate(0,0)" fill="url(#shadeL)"/>
<g filter="url(#org)">
<polygon points="308,61 307.5,52 309.5,45 313,39 318,34 324,30.5 329,29 330,31.5 323,35 317,40.5 313,47 311.5,53 312.2,60" fill="#c41f2a" fill-opacity="0.95"/>
<polygon points="321.5,36.5 328,32.5 332.5,33 332,38.5 327,40 322,40.5" fill="#c41f2a" fill-opacity="0.95"/>
<polygon points="331,29 338,27 346,25.8 354,27 361,30.5 363,34.5 357,36.3 350,37 348,42 351,47 355,50.5 361,52 368,52.5 368.5,59 362,61.5 356,59 348,59.5 340,60.8 333,59.5 327,57 320,55.5 314,54.5 313,49 316,45 322,43.5 329,42.5 332,40 332.5,35" fill="#2f66ad" fill-opacity="0.95"/>
<polygon points="336,40 342,34 348,36 348,44 352,50 348,56 340,57.5 334,55 336,48" fill="#1c4a8f" fill-opacity="0.85"/>
<ellipse cx="363" cy="56" rx="4.5" ry="3.5" fill="#1c4a8f" fill-opacity="0.9" transform="rotate(0 363 56)"/>
<ellipse cx="351.5" cy="42" rx="4.2" ry="3.4" fill="#f3f3f3" fill-opacity="0.95" transform="rotate(-10 351.5 42)"/>
<ellipse cx="320.5" cy="50" rx="2.5" ry="1.8" fill="#f3f3f3" fill-opacity="0.7" transform="rotate(0 320.5 50)"/>
<ellipse cx="326" cy="47" rx="2.5" ry="2" fill="#b9cde6" fill-opacity="0.6" transform="rotate(0 326 47)"/>
<ellipse cx="350" cy="29" rx="6" ry="2.2" fill="#b9cde6" fill-opacity="0.7" transform="rotate(0 350 29)"/>
<polygon points="357.5,37 362,36.3 366.5,40 365,44.5 360,45.5 357.5,43" fill="#c41f2a" fill-opacity="0.97"/>
<polygon points="328.5,63 335,60.6 343,60 350,60.8 351.5,63.5 346,67 339,71.8 332,73 328.5,69.5" fill="#c41f2a" fill-opacity="0.95"/>
<ellipse cx="374.5" cy="58" rx="2.2" ry="2.5" fill="#e07a68" fill-opacity="0.6" transform="rotate(0 374.5 58)"/>
<ellipse cx="356" cy="63.5" rx="5" ry="1.4" fill="#f3f3f3" fill-opacity="0.8" transform="rotate(0 356 63.5)"/>
<polyline points="333,44 337,38 340,31" fill="none" stroke="#e8eef6" stroke-width="1.0" stroke-opacity="0.6" stroke-linecap="round" stroke-linejoin="round"/>
<polyline points="352,53 356,47 358,39" fill="none" stroke="#e8eef6" stroke-width="0.9" stroke-opacity="0.5" stroke-linecap="round" stroke-linejoin="round"/>
<polyline points="318,52 325,49 332,47" fill="none" stroke="#e8eef6" stroke-width="0.8" stroke-opacity="0.5" stroke-linecap="round" stroke-linejoin="round"/>
<polygon points="338,45 344,40 348,47 347,55 340,57 336,53" fill="#173f80" fill-opacity="0.6"/>
<polyline points="330,58.5 338,57.5 348,55 356,53" fill="none" stroke="#3b3b3b" stroke-width="0.7" stroke-opacity="0.35" stroke-linecap="round" stroke-linejoin="round"/>
<polyline points="340,30 344,37 346,45" fill="none" stroke="#555" stroke-width="0.6" stroke-opacity="0.3" stroke-linecap="round" stroke-linejoin="round"/>
<polyline points="352,28 356,36" fill="none" stroke="#555" stroke-width="0.6" stroke-opacity="0.3" stroke-linecap="round" stroke-linejoin="round"/>
<polyline points="312,61 320,63.5 328,64" fill="none" stroke="#6a6a6a" stroke-width="1.0" stroke-opacity="0.5" stroke-linecap="round" stroke-linejoin="round"/>
</g>
<rect x="300" y="18" width="160" height="62" filter="url(#sulc)" opacity="0.4"/>
<path d="M308.2,57 C307.8,47 312,38 320,32.5 C328,27.5 338,25.6 348,25.6 C357,25.8 364.5,28.5 370.5,34.5 C375.5,40 377.6,48 376.9,55.5 C376.3,60 372.5,62 366,63.2 C359,64 352,64.6 347,67 C343,69.5 339.5,72.4 334.5,72.6 C330.8,72.6 328.8,70 329.0,66 C323,65.2 316,64.6 312,62.6 C309.6,61.3 308.3,59.5 308.2,57 Z" transform="translate(0,0)" fill="url(#vign)"/>
</g>
<path d="M308.2,57 C307.8,47 312,38 320,32.5 C328,27.5 338,25.6 348,25.6 C357,25.8 364.5,28.5 370.5,34.5 C375.5,40 377.6,48 376.9,55.5 C376.3,60 372.5,62 366,63.2 C359,64 352,64.6 347,67 C343,69.5 339.5,72.4 334.5,72.6 C330.8,72.6 328.8,70 329.0,66 C323,65.2 316,64.6 312,62.6 C309.6,61.3 308.3,59.5 308.2,57 Z" transform="translate(0,0)" fill="none" stroke="#777" stroke-width="0.45" stroke-opacity="0.55"/>
<g clip-path="url(#c2)">
<path d="M387.4,58.5 C387.6,50 390,43 395,37 C400,31 407,27.3 416,26.3 C426,25.6 436,28.5 444.5,35.5 C451,41.5 455.2,48 455.4,53.5 C455.4,58.5 453.5,62 449.5,63.8 C445,65.4 440,66.2 435.5,67.2 C434.8,70 433.2,72.8 429.5,73.2 C425.5,73.4 421,70.5 416,67.4 C411,64.8 404,63.4 398,63 C392.5,62.6 388.2,61.4 387.4,58.5 Z" transform="translate(0,0)" fill="url(#shadeL)"/>
<g filter="url(#org)">
<polygon points="406,30 413,26.5 423,26 432,27.5 434,31 432,37 428,40 421,38 414,36 408,34" fill="#2f66ad" fill-opacity="0.92"/>
<ellipse cx="426" cy="34.5" rx="3.8" ry="4.5" fill="#1c4a8f" fill-opacity="0.95" transform="rotate(0 426 34.5)"/>
<ellipse cx="414" cy="30" rx="4" ry="2.2" fill="#b9cde6" fill-opacity="0.7" transform="rotate(0 414 30)"/>
<ellipse cx="433.5" cy="34" rx="3" ry="3" fill="#f3f3f3" fill-opacity="0.9" transform="rotate(0 433.5 34)"/>
<polygon points="436,30 442,33 448,38 452.5,44 455.5,52 454.5,59 450.5,63.5 444,65.5 441,63 444.5,59 443,55 440,51 438,46 437.5,42 439.5,38 436.5,34" fill="#c41f2a" fill-opacity="0.96"/>
<polygon points="397.5,37 404,35.5 412,37.5 420.5,39.5 423,42.5 418,45.5 412,49 408,54.5 403,53 399,46" fill="#b01b26" fill-opacity="0.95"/>
<polygon points="391,47 395,42 399,46 403,53 409,57.5 406,59.5 398,58.5 392,57" fill="#e07a68" fill-opacity="0.5"/>
<ellipse cx="423" cy="53.5" rx="1.4" ry="1.6" fill="#c41f2a" fill-opacity="0.7" transform="rotate(0 423 53.5)"/>
<ellipse cx="434.5" cy="58.8" rx="1.6" ry="1.8" fill="#e07a68" fill-opacity="0.45" transform="rotate(0 434.5 58.8)"/>
<polyline points="397,36.5 402,44 407,51 411,55.5" fill="none" stroke="#222" stroke-width="0.9" stroke-opacity="0.55" stroke-linecap="round" stroke-linejoin="round"/>
<polyline points="392,61.5 404,62.8 415,65.8 426,71.5" fill="none" stroke="#3a3a3a" stroke-width="1.4" stroke-opacity="0.6" stroke-linecap="round" stroke-linejoin="round"/>
<polyline points="408,61.5 420,62.5 432,63 442,62.5 448,61" fill="none" stroke="#4a4a4a" stroke-width="1.6" stroke-opacity="0.45" stroke-linecap="round" stroke-linejoin="round"/>
<polyline points="402,38 412,40.5 424,41.5 436,41" fill="none" stroke="#888" stroke-width="1.0" stroke-opacity="0.25" stroke-linecap="round" stroke-linejoin="round"/>
<polyline points="416,67.5 424,68.5 432,69.5" fill="none" stroke="#777" stroke-width="0.9" stroke-opacity="0.4" stroke-linecap="round" stroke-linejoin="round"/>
</g>
<rect x="300" y="18" width="160" height="62" filter="url(#sulc)" opacity="0.4"/>
<path d="M387.4,58.5 C387.6,50 390,43 395,37 C400,31 407,27.3 416,26.3 C426,25.6 436,28.5 444.5,35.5 C451,41.5 455.2,48 455.4,53.5 C455.4,58.5 453.5,62 449.5,63.8 C445,65.4 440,66.2 435.5,67.2 C434.8,70 433.2,72.8 429.5,73.2 C425.5,73.4 421,70.5 416,67.4 C411,64.8 404,63.4 398,63 C392.5,62.6 388.2,61.4 387.4,58.5 Z" transform="translate(0,0)" fill="url(#vign)"/>
</g>
<path d="M387.4,58.5 C387.6,50 390,43 395,37 C400,31 407,27.3 416,26.3 C426,25.6 436,28.5 444.5,35.5 C451,41.5 455.2,48 455.4,53.5 C455.4,58.5 453.5,62 449.5,63.8 C445,65.4 440,66.2 435.5,67.2 C434.8,70 433.2,72.8 429.5,73.2 C425.5,73.4 421,70.5 416,67.4 C411,64.8 404,63.4 398,63 C392.5,62.6 388.2,61.4 387.4,58.5 Z" transform="translate(0,0)" fill="none" stroke="#777" stroke-width="0.45" stroke-opacity="0.55"/>
<g clip-path="url(#c3)">
<path d="M308.2,57 C307.8,47 312,38 320,32.5 C328,27.5 338,25.6 348,25.6 C357,25.8 364.5,28.5 370.5,34.5 C375.5,40 377.6,48 376.9,55.5 C376.3,60 372.5,62 366,63.2 C359,64 352,64.6 347,67 C343,69.5 339.5,72.4 334.5,72.6 C330.8,72.6 328.8,70 329.0,66 C323,65.2 316,64.6 312,62.6 C309.6,61.3 308.3,59.5 308.2,57 Z" transform="translate(0,106.6)" fill="url(#shadeL)"/>
<g filter="url(#org)">
<polygon points="308,168.6 307.5,156.6 311,147.6 317,141.6 324,137.1 331,135.1 333,137.6 329,141.6 327,147.6 327,156.6 326,163.6 323,168.6 316,170.1" fill="#c41f2a" fill-opacity="0.9"/>
<polygon points="318,142.6 326,137.6 334,135.1 342,133.6 346,134.1 344,136.6 336,138.1 331,143.6 332,151.6 331,157.6 327,161.6 324,154.6" fill="#e07a68" fill-opacity="0.75"/>
<ellipse cx="320" cy="151.6" rx="4" ry="9" fill="#b01b26" fill-opacity="0.8" transform="rotate(10 320 151.6)"/>
<polygon points="345,133.6 352,133.1 359,135.1 362,139.6 357,143.6 350,142.6 346,138.6" fill="#eeb3a3" fill-opacity="0.85"/>
<polygon points="347.7,138.6 354,138.1 354.5,143.6 350,144.6 347.5,142.6" fill="#c41f2a" fill-opacity="0.9"/>
<polygon points="346,144.6 353,143.6 362,144.1 364,148.6 360,154.6 356,159.1 352,156.6 349,150.6" fill="#e07a68" fill-opacity="0.97"/>
<polygon points="331,142.6 338,142.6 346,144.6 349,150.6 352,157.6 350,164.6 343,166.6 335,165.6 329,161.6 330,153.6" fill="#2f66ad" fill-opacity="0.97"/>
<ellipse cx="338" cy="152.6" rx="6" ry="6" fill="#1c4a8f" fill-opacity="0.9" transform="rotate(0 338 152.6)"/>
<polygon points="361,148.1 366,147.6 370,150.6 372,156.6 368,160.1 362,159.6 359,154.6" fill="#1c4a8f" fill-opacity="0.95"/>
<ellipse cx="372.5" cy="153.6" rx="3" ry="4" fill="#2f66ad" fill-opacity="0.8" transform="rotate(0 372.5 153.6)"/>
<polygon points="348,161.6 360,160.6 372,159.6 376,162.6 373,168.6 362,170.1 352,170.6 347,167.6" fill="#7fa6d2" fill-opacity="0.9"/>
<polygon points="328,161.6 336,159.6 346,161.6 350,164.6 352,170.1 344,173.6 337,179.2 330,178.1 328,169.6" fill="#2f66ad" fill-opacity="0.95"/>
<polygon points="320,161.6 327,160.6 330,164.6 329,170.6 323,169.6" fill="#7fa6d2" fill-opacity="0.85"/>
<ellipse cx="342" cy="169.6" rx="5" ry="1.5" fill="#c9d6e6" fill-opacity="0.7" transform="rotate(-10 342 169.6)"/>
<polyline points="312,156.6 318,150.6 324,146.6" fill="none" stroke="#f0f0f0" stroke-width="1.0" stroke-opacity="0.6" stroke-linecap="round" stroke-linejoin="round"/>
<polyline points="315,164.6 320,158.6 327,153.6" fill="none" stroke="#f0f0f0" stroke-width="0.9" stroke-opacity="0.5" stroke-linecap="round" stroke-linejoin="round"/>
<ellipse cx="337" cy="138.1" rx="3" ry="2.8" fill="#2f66ad" fill-opacity="0.75" transform="rotate(0 337 138.1)"/>
<ellipse cx="345" cy="174.6" rx="6" ry="2.5" fill="#d0d0d0" fill-opacity="0.6" transform="rotate(-20 345 174.6)"/>
<polyline points="330,161.6 340,162.6 352,160.6 362,160.6" fill="none" stroke="#444" stroke-width="0.7" stroke-opacity="0.35" stroke-linecap="round" stroke-linejoin="round"/>
<polyline points="311,167.6 318,170.1 328,170.6" fill="none" stroke="#6a6a6a" stroke-width="1.0" stroke-opacity="0.55" stroke-linecap="round" stroke-linejoin="round"/>
</g>
<rect x="300" y="124.6" width="160" height="62" filter="url(#sulc)" opacity="0.4"/>
<path d="M308.2,57 C307.8,47 312,38 320,32.5 C328,27.5 338,25.6 348,25.6 C357,25.8 364.5,28.5 370.5,34.5 C375.5,40 377.6,48 376.9,55.5 C376.3,60 372.5,62 366,63.2 C359,64 352,64.6 347,67 C343,69.5 339.5,72.4 334.5,72.6 C330.8,72.6 328.8,70 329.0,66 C323,65.2 316,64.6 312,62.6 C309.6,61.3 308.3,59.5 308.2,57 Z" transform="translate(0,106.6)" fill="url(#vign)"/>
</g>
<path d="M308.2,57 C307.8,47 312,38 320,32.5 C328,27.5 338,25.6 348,25.6 C357,25.8 364.5,28.5 370.5,34.5 C375.5,40 377.6,48 376.9,55.5 C376.3,60 372.5,62 366,63.2 C359,64 352,64.6 347,67 C343,69.5 339.5,72.4 334.5,72.6 C330.8,72.6 328.8,70 329.0,66 C323,65.2 316,64.6 312,62.6 C309.6,61.3 308.3,59.5 308.2,57 Z" transform="translate(0,106.6)" fill="none" stroke="#777" stroke-width="0.45" stroke-opacity="0.55"/>
<g clip-path="url(#c4)">
<path d="M387.4,58.5 C387.6,50 390,43 395,37 C400,31 407,27.3 416,26.3 C426,25.6 436,28.5 444.5,35.5 C451,41.5 455.2,48 455.4,53.5 C455.4,58.5 453.5,62 449.5,63.8 C445,65.4 440,66.2 435.5,67.2 C434.8,70 433.2,72.8 429.5,73.2 C425.5,73.4 421,70.5 416,67.4 C411,64.8 404,63.4 398,63 C392.5,62.6 388.2,61.4 387.4,58.5 Z" transform="translate(0,106.3)" fill="url(#shadeL)"/>
<g filter="url(#org)">
<polygon points="404,136.3 411,132.8 420,132.3 422,136.3 420,141.3 414,141.3 407,140.3" fill="#7fa6d2" fill-opacity="0.85"/>
<polygon points="420,133.3 428,133.3 437,136.3 445,141.8 451,148.3 455,156.3 455,164.3 451,169.8 443,172.3 436,172.8 430,170.3 433,166.3 440,164.3 443,159.3 441,153.3 436,148.3 429,145.3 423,144.3 420,140.3" fill="#c41f2a" fill-opacity="0.93"/>
<ellipse cx="433.5" cy="144.8" rx="4" ry="3.5" fill="#a9b9cc" fill-opacity="0.95" transform="rotate(0 433.5 144.8)"/>
<polygon points="399,143.8 405,142.3 411,144.3 417,146.3 424,146.8 424,150.3 417,151.3 410,152.3 404,151.3 400,148.3" fill="#b01b26" fill-opacity="0.95"/>
<ellipse cx="398" cy="152.3" rx="2.8" ry="4.5" fill="#eeb3a3" fill-opacity="0.7" transform="rotate(0 398 152.3)"/>
<polygon points="387,165.3 388,156.3 391,149.3 395,147.3 398,152.3 402,159.3 405,164.3 404,168.3 395,168.3" fill="#2f66ad" fill-opacity="0.95"/>
<ellipse cx="394" cy="159.3" rx="4" ry="4" fill="#1c4a8f" fill-opacity="0.7" transform="rotate(0 394 159.3)"/>
<polygon points="401,167.3 412,168.3 422,171.3 432,172.3 435,175.3 432,179.8 424,177.8 414,172.8 404,170.3" fill="#1c4a8f" fill-opacity="0.9"/>
<ellipse cx="421" cy="160.3" rx="2.2" ry="2.6" fill="#e07a68" fill-opacity="0.75" transform="rotate(0 421 160.3)"/>
<polygon points="428,164.3 434,162.3 440,164.3 436,168.3 430,168.3" fill="#e07a68" fill-opacity="0.6"/>
<polyline points="396,143.3 400,151.3 405,159.3 408,164.3" fill="none" stroke="#222" stroke-width="0.9" stroke-opacity="0.55" stroke-linecap="round" stroke-linejoin="round"/>
<polyline points="392,168.3 404,169.3 415,172.8 425,177.8" fill="none" stroke="#333" stroke-width="1.3" stroke-opacity="0.6" stroke-linecap="round" stroke-linejoin="round"/>
<polyline points="408,167.8 420,168.8 432,169.3 442,168.8 448,167.3" fill="none" stroke="#4a4a4a" stroke-width="1.5" stroke-opacity="0.45" stroke-linecap="round" stroke-linejoin="round"/>
<polyline points="402,144.3 412,146.8 424,147.8 436,147.3" fill="none" stroke="#888" stroke-width="1.0" stroke-opacity="0.25" stroke-linecap="round" stroke-linejoin="round"/>
</g>
<rect x="300" y="124.3" width="160" height="62" filter="url(#sulc)" opacity="0.4"/>
<path d="M387.4,58.5 C387.6,50 390,43 395,37 C400,31 407,27.3 416,26.3 C426,25.6 436,28.5 444.5,35.5 C451,41.5 455.2,48 455.4,53.5 C455.4,58.5 453.5,62 449.5,63.8 C445,65.4 440,66.2 435.5,67.2 C434.8,70 433.2,72.8 429.5,73.2 C425.5,73.4 421,70.5 416,67.4 C411,64.8 404,63.4 398,63 C392.5,62.6 388.2,61.4 387.4,58.5 Z" transform="translate(0,106.3)" fill="url(#vign)"/>
</g>
<path d="M387.4,58.5 C387.6,50 390,43 395,37 C400,31 407,27.3 416,26.3 C426,25.6 436,28.5 444.5,35.5 C451,41.5 455.2,48 455.4,53.5 C455.4,58.5 453.5,62 449.5,63.8 C445,65.4 440,66.2 435.5,67.2 C434.8,70 433.2,72.8 429.5,73.2 C425.5,73.4 421,70.5 416,67.4 C411,64.8 404,63.4 398,63 C392.5,62.6 388.2,61.4 387.4,58.5 Z" transform="translate(0,106.3)" fill="none" stroke="#777" stroke-width="0.45" stroke-opacity="0.55"/>
<rect x="366.80" y="87.40" width="31.50" height="5.50" fill="url(#cb)" stroke="none" stroke-width="1"/>
<rect x="365.00" y="191.90" width="32.20" height="5.80" fill="url(#cb)" stroke="none" stroke-width="1"/>
<text x="380.60" y="21.00" font-size="10.9" text-anchor="middle">Mean deviation map</text>
<text x="383.80" y="82.60" font-size="10.9" text-anchor="middle">Deviation values</text>
<text x="361.80" y="93.90" font-size="10.9" text-anchor="end">-0.5</text>
<text x="403.00" y="93.90" font-size="10.9" text-anchor="start">0.5</text>
<text x="382.20" y="113.80" font-size="10.9" text-anchor="middle">Weighted gene expression</text>
<text x="380.30" y="128.60" font-size="10.9" text-anchor="middle">(PLS1)</text>
<text x="382.20" y="187.80" font-size="10.9" text-anchor="middle">PLS1 scores</text>
<text x="360.70" y="198.00" font-size="10.9" text-anchor="end">-0.1</text>
<text x="402.60" y="198.00" font-size="10.9" text-anchor="start">0.1</text>
</svg>
</body></html>
